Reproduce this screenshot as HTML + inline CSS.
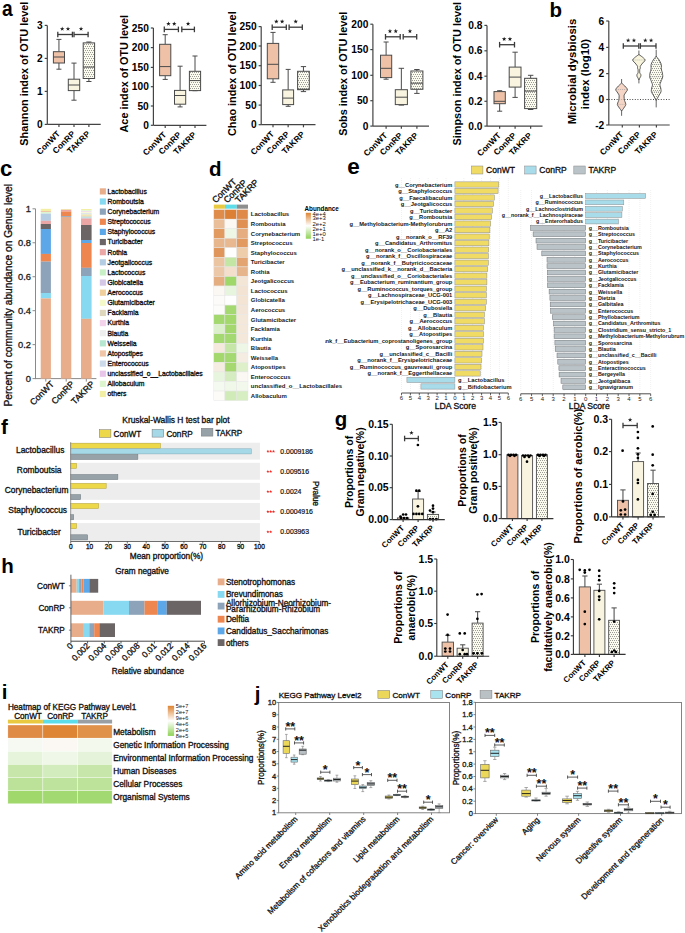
<!DOCTYPE html>
<html><head><meta charset="utf-8"><style>html,body{margin:0;padding:0;background:#fff;width:685px;height:933px;overflow:hidden}svg{display:block}text{font-family:"Liberation Sans",sans-serif}</style></head>
<body><svg width="685" height="933" viewBox="0 0 685 933" font-family='"Liberation Sans", sans-serif'><defs><pattern id="dots" width="2" height="4" patternUnits="userSpaceOnUse"><rect width="2" height="4" fill="#FCFBF0"/><rect x="0" y="0" width="1" height="1" fill="#9c9c94"/><rect x="1" y="2" width="1" height="1" fill="#9c9c94"/></pattern></defs><text x="0" y="0" font-size="21.5" font-weight="bold" transform="translate(2 16.4) scale(0.89 1)">a</text>
<line x1="47.3" y1="25.4" x2="47.3" y2="124.4" stroke="#444" stroke-width="1.2"/>
<line x1="47.3" y1="124.4" x2="100.7" y2="124.4" stroke="#444" stroke-width="1.2"/>
<line x1="44.7" y1="25.4" x2="47.3" y2="25.4" stroke="#444" stroke-width="1.2"/>
<text x="42.7" y="29.07" font-size="10.2" font-weight="bold" text-anchor="end">3</text>
<line x1="44.7" y1="58.4" x2="47.3" y2="58.4" stroke="#444" stroke-width="1.2"/>
<text x="42.7" y="62.07" font-size="10.2" font-weight="bold" text-anchor="end">2</text>
<line x1="44.7" y1="91.4" x2="47.3" y2="91.4" stroke="#444" stroke-width="1.2"/>
<text x="42.7" y="95.07" font-size="10.2" font-weight="bold" text-anchor="end">1</text>
<line x1="44.7" y1="124.4" x2="47.3" y2="124.4" stroke="#444" stroke-width="1.2"/>
<text x="42.7" y="128.07" font-size="10.2" font-weight="bold" text-anchor="end">0</text>
<line x1="58.95" y1="124.4" x2="58.95" y2="127" stroke="#444" stroke-width="1.2"/>
<line x1="74" y1="124.4" x2="74" y2="127" stroke="#444" stroke-width="1.2"/>
<line x1="88.9" y1="124.4" x2="88.9" y2="127" stroke="#444" stroke-width="1.2"/>
<line x1="58.95" y1="39.4" x2="58.95" y2="51.7" stroke="#4a4a4a" stroke-width="1"/>
<line x1="58.95" y1="63" x2="58.95" y2="69.2" stroke="#4a4a4a" stroke-width="1"/>
<line x1="56.45" y1="39.4" x2="61.45" y2="39.4" stroke="#4a4a4a" stroke-width="1"/>
<line x1="56.45" y1="69.2" x2="61.45" y2="69.2" stroke="#4a4a4a" stroke-width="1"/>
<rect x="53.4" y="51.7" width="11.1" height="11.3" fill="#EFC2A8" stroke="#4a4a4a" stroke-width="1"/>
<line x1="53.4" y1="57" x2="64.5" y2="57" stroke="#4a4a4a" stroke-width="1"/>
<line x1="74" y1="63.1" x2="74" y2="79.2" stroke="#4a4a4a" stroke-width="1"/>
<line x1="74" y1="90.6" x2="74" y2="100.2" stroke="#4a4a4a" stroke-width="1"/>
<line x1="71.44" y1="63.1" x2="76.56" y2="63.1" stroke="#4a4a4a" stroke-width="1"/>
<line x1="71.44" y1="100.2" x2="76.56" y2="100.2" stroke="#4a4a4a" stroke-width="1"/>
<rect x="68.3" y="79.2" width="11.4" height="11.4" fill="#F8F4E0" stroke="#4a4a4a" stroke-width="1"/>
<line x1="68.3" y1="85" x2="79.7" y2="85" stroke="#4a4a4a" stroke-width="1"/>
<line x1="88.9" y1="42" x2="88.9" y2="42.9" stroke="#4a4a4a" stroke-width="1"/>
<line x1="88.9" y1="78.5" x2="88.9" y2="81.5" stroke="#4a4a4a" stroke-width="1"/>
<line x1="86.34" y1="42" x2="91.47" y2="42" stroke="#4a4a4a" stroke-width="1"/>
<line x1="86.34" y1="81.5" x2="91.47" y2="81.5" stroke="#4a4a4a" stroke-width="1"/>
<rect x="83.2" y="42.9" width="11.4" height="35.6" fill="url(#dots)" stroke="#4a4a4a" stroke-width="1"/>
<line x1="83.2" y1="67.1" x2="94.6" y2="67.1" stroke="#4a4a4a" stroke-width="1"/>
<line x1="57.8" y1="34.5" x2="72.4" y2="34.5" stroke="#3a3a3a" stroke-width="1.3"/>
<line x1="57.8" y1="31.7" x2="57.8" y2="37.3" stroke="#3a3a3a" stroke-width="1.3"/>
<line x1="72.4" y1="31.7" x2="72.4" y2="37.3" stroke="#3a3a3a" stroke-width="1.3"/>
<polygon points="62.2,26.55 62.76,28.13 64.43,28.17 63.1,29.19 63.58,30.8 62.2,29.85 60.82,30.8 61.3,29.19 59.97,28.17 61.64,28.13" fill="#1a1a1a"/>
<polygon points="68,26.55 68.56,28.13 70.23,28.17 68.9,29.19 69.38,30.8 68,29.85 66.62,30.8 67.1,29.19 65.77,28.17 67.44,28.13" fill="#1a1a1a"/>
<line x1="74" y1="34.5" x2="88.1" y2="34.5" stroke="#3a3a3a" stroke-width="1.3"/>
<line x1="74" y1="31.7" x2="74" y2="37.3" stroke="#3a3a3a" stroke-width="1.3"/>
<line x1="88.1" y1="31.7" x2="88.1" y2="37.3" stroke="#3a3a3a" stroke-width="1.3"/>
<polygon points="81.05,26.55 81.61,28.13 83.28,28.17 81.95,29.19 82.43,30.8 81.05,29.85 79.67,30.8 80.15,29.19 78.82,28.17 80.49,28.13" fill="#1a1a1a"/>
<text x="28.3" y="73.7" font-size="10.85" font-weight="bold" text-anchor="middle" transform="rotate(-90 28.3 73.7)">Shannon index of OTU level</text>
<text x="60.65" y="134.4" font-size="8.4" font-weight="bold" text-anchor="end" transform="rotate(-45 60.65 134.4)">ConWT</text>
<text x="75.7" y="134.4" font-size="8.4" font-weight="bold" text-anchor="end" transform="rotate(-45 75.7 134.4)">ConRP</text>
<text x="90.6" y="134.4" font-size="8.4" font-weight="bold" text-anchor="end" transform="rotate(-45 90.6 134.4)">TAKRP</text>
<line x1="153.4" y1="28" x2="153.4" y2="125.3" stroke="#444" stroke-width="1.2"/>
<line x1="153.4" y1="125.3" x2="206.4" y2="125.3" stroke="#444" stroke-width="1.2"/>
<line x1="150.8" y1="28" x2="153.4" y2="28" stroke="#444" stroke-width="1.2"/>
<text x="148.8" y="31.67" font-size="10.2" font-weight="bold" text-anchor="end">250</text>
<line x1="150.8" y1="47.6" x2="153.4" y2="47.6" stroke="#444" stroke-width="1.2"/>
<text x="148.8" y="51.27" font-size="10.2" font-weight="bold" text-anchor="end">200</text>
<line x1="150.8" y1="67.4" x2="153.4" y2="67.4" stroke="#444" stroke-width="1.2"/>
<text x="148.8" y="71.07" font-size="10.2" font-weight="bold" text-anchor="end">150</text>
<line x1="150.8" y1="86.7" x2="153.4" y2="86.7" stroke="#444" stroke-width="1.2"/>
<text x="148.8" y="90.37" font-size="10.2" font-weight="bold" text-anchor="end">100</text>
<line x1="150.8" y1="106" x2="153.4" y2="106" stroke="#444" stroke-width="1.2"/>
<text x="148.8" y="109.67" font-size="10.2" font-weight="bold" text-anchor="end">50</text>
<line x1="150.8" y1="125.3" x2="153.4" y2="125.3" stroke="#444" stroke-width="1.2"/>
<text x="148.8" y="128.97" font-size="10.2" font-weight="bold" text-anchor="end">0</text>
<line x1="165.2" y1="125.3" x2="165.2" y2="127.9" stroke="#444" stroke-width="1.2"/>
<line x1="180.1" y1="125.3" x2="180.1" y2="127.9" stroke="#444" stroke-width="1.2"/>
<line x1="195" y1="125.3" x2="195" y2="127.9" stroke="#444" stroke-width="1.2"/>
<line x1="165.2" y1="34.7" x2="165.2" y2="44.3" stroke="#4a4a4a" stroke-width="1"/>
<line x1="165.2" y1="75.7" x2="165.2" y2="79.4" stroke="#4a4a4a" stroke-width="1"/>
<line x1="162.68" y1="34.7" x2="167.72" y2="34.7" stroke="#4a4a4a" stroke-width="1"/>
<line x1="162.68" y1="79.4" x2="167.72" y2="79.4" stroke="#4a4a4a" stroke-width="1"/>
<rect x="159.6" y="44.3" width="11.2" height="31.4" fill="#EFC2A8" stroke="#4a4a4a" stroke-width="1"/>
<line x1="159.6" y1="66.6" x2="170.8" y2="66.6" stroke="#4a4a4a" stroke-width="1"/>
<line x1="180.1" y1="66.2" x2="180.1" y2="90.4" stroke="#4a4a4a" stroke-width="1"/>
<line x1="180.1" y1="104.2" x2="180.1" y2="106.9" stroke="#4a4a4a" stroke-width="1"/>
<line x1="177.58" y1="66.2" x2="182.62" y2="66.2" stroke="#4a4a4a" stroke-width="1"/>
<line x1="177.58" y1="106.9" x2="182.62" y2="106.9" stroke="#4a4a4a" stroke-width="1"/>
<rect x="174.5" y="90.4" width="11.2" height="13.8" fill="#F8F4E0" stroke="#4a4a4a" stroke-width="1"/>
<line x1="174.5" y1="95.5" x2="185.7" y2="95.5" stroke="#4a4a4a" stroke-width="1"/>
<line x1="195" y1="56" x2="195" y2="71.3" stroke="#4a4a4a" stroke-width="1"/>
<line x1="195" y1="90.6" x2="195" y2="90.7" stroke="#4a4a4a" stroke-width="1"/>
<line x1="192.48" y1="56" x2="197.52" y2="56" stroke="#4a4a4a" stroke-width="1"/>
<line x1="192.48" y1="90.7" x2="197.52" y2="90.7" stroke="#4a4a4a" stroke-width="1"/>
<rect x="189.4" y="71.3" width="11.2" height="19.3" fill="url(#dots)" stroke="#4a4a4a" stroke-width="1"/>
<line x1="189.4" y1="80.6" x2="200.6" y2="80.6" stroke="#4a4a4a" stroke-width="1"/>
<line x1="164.3" y1="29.4" x2="178.4" y2="29.4" stroke="#3a3a3a" stroke-width="1.3"/>
<line x1="164.3" y1="26.6" x2="164.3" y2="32.2" stroke="#3a3a3a" stroke-width="1.3"/>
<line x1="178.4" y1="26.6" x2="178.4" y2="32.2" stroke="#3a3a3a" stroke-width="1.3"/>
<polygon points="168.45,21.45 169.01,23.03 170.68,23.07 169.35,24.09 169.83,25.7 168.45,24.75 167.07,25.7 167.55,24.09 166.22,23.07 167.89,23.03" fill="#1a1a1a"/>
<polygon points="174.25,21.45 174.81,23.03 176.48,23.07 175.15,24.09 175.63,25.7 174.25,24.75 172.87,25.7 173.35,24.09 172.02,23.07 173.69,23.03" fill="#1a1a1a"/>
<line x1="181.8" y1="29.4" x2="194.4" y2="29.4" stroke="#3a3a3a" stroke-width="1.3"/>
<line x1="181.8" y1="26.6" x2="181.8" y2="32.2" stroke="#3a3a3a" stroke-width="1.3"/>
<line x1="194.4" y1="26.6" x2="194.4" y2="32.2" stroke="#3a3a3a" stroke-width="1.3"/>
<polygon points="188.1,21.45 188.66,23.03 190.33,23.07 189,24.09 189.48,25.7 188.1,24.75 186.72,25.7 187.2,24.09 185.87,23.07 187.54,23.03" fill="#1a1a1a"/>
<text x="128.2" y="73.7" font-size="10.85" font-weight="bold" text-anchor="middle" transform="rotate(-90 128.2 73.7)">Ace index of OTU level</text>
<text x="166.9" y="135.3" font-size="8.4" font-weight="bold" text-anchor="end" transform="rotate(-45 166.9 135.3)">ConWT</text>
<text x="181.8" y="135.3" font-size="8.4" font-weight="bold" text-anchor="end" transform="rotate(-45 181.8 135.3)">ConRP</text>
<text x="196.7" y="135.3" font-size="8.4" font-weight="bold" text-anchor="end" transform="rotate(-45 196.7 135.3)">TAKRP</text>
<line x1="261.2" y1="26.6" x2="261.2" y2="124.7" stroke="#444" stroke-width="1.2"/>
<line x1="261.2" y1="124.7" x2="315.5" y2="124.7" stroke="#444" stroke-width="1.2"/>
<line x1="258.6" y1="26.6" x2="261.2" y2="26.6" stroke="#444" stroke-width="1.2"/>
<text x="256.6" y="30.27" font-size="10.2" font-weight="bold" text-anchor="end">250</text>
<line x1="258.6" y1="46" x2="261.2" y2="46" stroke="#444" stroke-width="1.2"/>
<text x="256.6" y="49.67" font-size="10.2" font-weight="bold" text-anchor="end">200</text>
<line x1="258.6" y1="65.7" x2="261.2" y2="65.7" stroke="#444" stroke-width="1.2"/>
<text x="256.6" y="69.37" font-size="10.2" font-weight="bold" text-anchor="end">150</text>
<line x1="258.6" y1="85.5" x2="261.2" y2="85.5" stroke="#444" stroke-width="1.2"/>
<text x="256.6" y="89.17" font-size="10.2" font-weight="bold" text-anchor="end">100</text>
<line x1="258.6" y1="105.1" x2="261.2" y2="105.1" stroke="#444" stroke-width="1.2"/>
<text x="256.6" y="108.77" font-size="10.2" font-weight="bold" text-anchor="end">50</text>
<line x1="258.6" y1="124.7" x2="261.2" y2="124.7" stroke="#444" stroke-width="1.2"/>
<text x="256.6" y="128.37" font-size="10.2" font-weight="bold" text-anchor="end">0</text>
<line x1="273" y1="124.7" x2="273" y2="127.3" stroke="#444" stroke-width="1.2"/>
<line x1="288.15" y1="124.7" x2="288.15" y2="127.3" stroke="#444" stroke-width="1.2"/>
<line x1="303.45" y1="124.7" x2="303.45" y2="127.3" stroke="#444" stroke-width="1.2"/>
<line x1="273" y1="32.4" x2="273" y2="43.4" stroke="#4a4a4a" stroke-width="1"/>
<line x1="273" y1="78.8" x2="273" y2="82.3" stroke="#4a4a4a" stroke-width="1"/>
<line x1="270.44" y1="32.4" x2="275.56" y2="32.4" stroke="#4a4a4a" stroke-width="1"/>
<line x1="270.44" y1="82.3" x2="275.56" y2="82.3" stroke="#4a4a4a" stroke-width="1"/>
<rect x="267.3" y="43.4" width="11.4" height="35.4" fill="#EFC2A8" stroke="#4a4a4a" stroke-width="1"/>
<line x1="267.3" y1="64.3" x2="278.7" y2="64.3" stroke="#4a4a4a" stroke-width="1"/>
<line x1="288.15" y1="69.4" x2="288.15" y2="89.9" stroke="#4a4a4a" stroke-width="1"/>
<line x1="288.15" y1="104.6" x2="288.15" y2="106.3" stroke="#4a4a4a" stroke-width="1"/>
<line x1="285.7" y1="69.4" x2="290.6" y2="69.4" stroke="#4a4a4a" stroke-width="1"/>
<line x1="285.7" y1="106.3" x2="290.6" y2="106.3" stroke="#4a4a4a" stroke-width="1"/>
<rect x="282.7" y="89.9" width="10.9" height="14.7" fill="#F8F4E0" stroke="#4a4a4a" stroke-width="1"/>
<line x1="282.7" y1="98.1" x2="293.6" y2="98.1" stroke="#4a4a4a" stroke-width="1"/>
<line x1="303.45" y1="66.6" x2="303.45" y2="71.3" stroke="#4a4a4a" stroke-width="1"/>
<line x1="303.45" y1="89.7" x2="303.45" y2="91.6" stroke="#4a4a4a" stroke-width="1"/>
<line x1="300.82" y1="66.6" x2="306.08" y2="66.6" stroke="#4a4a4a" stroke-width="1"/>
<line x1="300.82" y1="91.6" x2="306.08" y2="91.6" stroke="#4a4a4a" stroke-width="1"/>
<rect x="297.6" y="71.3" width="11.7" height="18.4" fill="url(#dots)" stroke="#4a4a4a" stroke-width="1"/>
<line x1="297.6" y1="89.2" x2="309.3" y2="89.2" stroke="#4a4a4a" stroke-width="1"/>
<line x1="272.2" y1="27.2" x2="286.3" y2="27.2" stroke="#3a3a3a" stroke-width="1.3"/>
<line x1="272.2" y1="24.4" x2="272.2" y2="30" stroke="#3a3a3a" stroke-width="1.3"/>
<line x1="286.3" y1="24.4" x2="286.3" y2="30" stroke="#3a3a3a" stroke-width="1.3"/>
<polygon points="276.35,19.25 276.91,20.83 278.58,20.87 277.25,21.89 277.73,23.5 276.35,22.55 274.97,23.5 275.45,21.89 274.12,20.87 275.79,20.83" fill="#1a1a1a"/>
<polygon points="282.15,19.25 282.71,20.83 284.38,20.87 283.05,21.89 283.53,23.5 282.15,22.55 280.77,23.5 281.25,21.89 279.92,20.87 281.59,20.83" fill="#1a1a1a"/>
<line x1="289.1" y1="27.2" x2="302.3" y2="27.2" stroke="#3a3a3a" stroke-width="1.3"/>
<line x1="289.1" y1="24.4" x2="289.1" y2="30" stroke="#3a3a3a" stroke-width="1.3"/>
<line x1="302.3" y1="24.4" x2="302.3" y2="30" stroke="#3a3a3a" stroke-width="1.3"/>
<polygon points="295.7,19.25 296.26,20.83 297.93,20.87 296.6,21.89 297.08,23.5 295.7,22.55 294.32,23.5 294.8,21.89 293.47,20.87 295.14,20.83" fill="#1a1a1a"/>
<text x="236.4" y="73.7" font-size="10.85" font-weight="bold" text-anchor="middle" transform="rotate(-90 236.4 73.7)">Chao index of OTU level</text>
<text x="274.7" y="134.7" font-size="8.4" font-weight="bold" text-anchor="end" transform="rotate(-45 274.7 134.7)">ConWT</text>
<text x="289.85" y="134.7" font-size="8.4" font-weight="bold" text-anchor="end" transform="rotate(-45 289.85 134.7)">ConRP</text>
<text x="305.15" y="134.7" font-size="8.4" font-weight="bold" text-anchor="end" transform="rotate(-45 305.15 134.7)">TAKRP</text>
<line x1="372.9" y1="24.2" x2="372.9" y2="126.1" stroke="#444" stroke-width="1.2"/>
<line x1="372.9" y1="126.1" x2="429" y2="126.1" stroke="#444" stroke-width="1.2"/>
<line x1="370.3" y1="24.2" x2="372.9" y2="24.2" stroke="#444" stroke-width="1.2"/>
<text x="368.3" y="27.87" font-size="10.2" font-weight="bold" text-anchor="end">200</text>
<line x1="370.3" y1="49.6" x2="372.9" y2="49.6" stroke="#444" stroke-width="1.2"/>
<text x="368.3" y="53.27" font-size="10.2" font-weight="bold" text-anchor="end">150</text>
<line x1="370.3" y1="75.3" x2="372.9" y2="75.3" stroke="#444" stroke-width="1.2"/>
<text x="368.3" y="78.97" font-size="10.2" font-weight="bold" text-anchor="end">100</text>
<line x1="370.3" y1="100.7" x2="372.9" y2="100.7" stroke="#444" stroke-width="1.2"/>
<text x="368.3" y="104.37" font-size="10.2" font-weight="bold" text-anchor="end">50</text>
<line x1="370.3" y1="126.1" x2="372.9" y2="126.1" stroke="#444" stroke-width="1.2"/>
<text x="368.3" y="129.77" font-size="10.2" font-weight="bold" text-anchor="end">0</text>
<line x1="386.1" y1="126.1" x2="386.1" y2="128.7" stroke="#444" stroke-width="1.2"/>
<line x1="401.35" y1="126.1" x2="401.35" y2="128.7" stroke="#444" stroke-width="1.2"/>
<line x1="416.9" y1="126.1" x2="416.9" y2="128.7" stroke="#444" stroke-width="1.2"/>
<line x1="386.1" y1="42" x2="386.1" y2="55.2" stroke="#4a4a4a" stroke-width="1"/>
<line x1="386.1" y1="77.6" x2="386.1" y2="79.2" stroke="#4a4a4a" stroke-width="1"/>
<line x1="383.58" y1="42" x2="388.62" y2="42" stroke="#4a4a4a" stroke-width="1"/>
<line x1="383.58" y1="79.2" x2="388.62" y2="79.2" stroke="#4a4a4a" stroke-width="1"/>
<rect x="380.5" y="55.2" width="11.2" height="22.4" fill="#EFC2A8" stroke="#4a4a4a" stroke-width="1"/>
<line x1="380.5" y1="68.3" x2="391.7" y2="68.3" stroke="#4a4a4a" stroke-width="1"/>
<line x1="401.35" y1="68.3" x2="401.35" y2="89.7" stroke="#4a4a4a" stroke-width="1"/>
<line x1="401.35" y1="104.6" x2="401.35" y2="105.1" stroke="#4a4a4a" stroke-width="1"/>
<line x1="398.63" y1="68.3" x2="404.07" y2="68.3" stroke="#4a4a4a" stroke-width="1"/>
<line x1="398.63" y1="105.1" x2="404.07" y2="105.1" stroke="#4a4a4a" stroke-width="1"/>
<rect x="395.3" y="89.7" width="12.1" height="14.9" fill="#F8F4E0" stroke="#4a4a4a" stroke-width="1"/>
<line x1="395.3" y1="97.2" x2="407.4" y2="97.2" stroke="#4a4a4a" stroke-width="1"/>
<line x1="416.9" y1="69.5" x2="416.9" y2="71" stroke="#4a4a4a" stroke-width="1"/>
<line x1="416.9" y1="89.3" x2="416.9" y2="93.4" stroke="#4a4a4a" stroke-width="1"/>
<line x1="414.2" y1="69.5" x2="419.6" y2="69.5" stroke="#4a4a4a" stroke-width="1"/>
<line x1="414.2" y1="93.4" x2="419.6" y2="93.4" stroke="#4a4a4a" stroke-width="1"/>
<rect x="410.9" y="71" width="12" height="18.3" fill="url(#dots)" stroke="#4a4a4a" stroke-width="1"/>
<line x1="410.9" y1="83.2" x2="422.9" y2="83.2" stroke="#4a4a4a" stroke-width="1"/>
<line x1="385.5" y1="36.8" x2="400.2" y2="36.8" stroke="#3a3a3a" stroke-width="1.3"/>
<line x1="385.5" y1="34" x2="385.5" y2="39.6" stroke="#3a3a3a" stroke-width="1.3"/>
<line x1="400.2" y1="34" x2="400.2" y2="39.6" stroke="#3a3a3a" stroke-width="1.3"/>
<polygon points="389.95,28.85 390.51,30.43 392.18,30.47 390.85,31.49 391.33,33.1 389.95,32.15 388.57,33.1 389.05,31.49 387.72,30.47 389.39,30.43" fill="#1a1a1a"/>
<polygon points="395.75,28.85 396.31,30.43 397.98,30.47 396.65,31.49 397.13,33.1 395.75,32.15 394.37,33.1 394.85,31.49 393.52,30.47 395.19,30.43" fill="#1a1a1a"/>
<line x1="403.2" y1="36.8" x2="416.7" y2="36.8" stroke="#3a3a3a" stroke-width="1.3"/>
<line x1="403.2" y1="34" x2="403.2" y2="39.6" stroke="#3a3a3a" stroke-width="1.3"/>
<line x1="416.7" y1="34" x2="416.7" y2="39.6" stroke="#3a3a3a" stroke-width="1.3"/>
<polygon points="409.95,28.85 410.51,30.43 412.18,30.47 410.85,31.49 411.33,33.1 409.95,32.15 408.57,33.1 409.05,31.49 407.72,30.47 409.39,30.43" fill="#1a1a1a"/>
<text x="347.5" y="73.7" font-size="10.85" font-weight="bold" text-anchor="middle" transform="rotate(-90 347.5 73.7)">Sobs index of OTU level</text>
<text x="387.8" y="136.1" font-size="8.4" font-weight="bold" text-anchor="end" transform="rotate(-45 387.8 136.1)">ConWT</text>
<text x="403.05" y="136.1" font-size="8.4" font-weight="bold" text-anchor="end" transform="rotate(-45 403.05 136.1)">ConRP</text>
<text x="418.6" y="136.1" font-size="8.4" font-weight="bold" text-anchor="end" transform="rotate(-45 418.6 136.1)">TAKRP</text>
<line x1="487" y1="25.4" x2="487" y2="126.1" stroke="#444" stroke-width="1.2"/>
<line x1="487" y1="126.1" x2="542.5" y2="126.1" stroke="#444" stroke-width="1.2"/>
<line x1="484.4" y1="25.4" x2="487" y2="25.4" stroke="#444" stroke-width="1.2"/>
<text x="482.4" y="29.07" font-size="10.2" font-weight="bold" text-anchor="end">0.8</text>
<line x1="484.4" y1="50.8" x2="487" y2="50.8" stroke="#444" stroke-width="1.2"/>
<text x="482.4" y="54.47" font-size="10.2" font-weight="bold" text-anchor="end">0.6</text>
<line x1="484.4" y1="76.2" x2="487" y2="76.2" stroke="#444" stroke-width="1.2"/>
<text x="482.4" y="79.87" font-size="10.2" font-weight="bold" text-anchor="end">0.4</text>
<line x1="484.4" y1="101.3" x2="487" y2="101.3" stroke="#444" stroke-width="1.2"/>
<text x="482.4" y="104.97" font-size="10.2" font-weight="bold" text-anchor="end">0.2</text>
<line x1="484.4" y1="126.1" x2="487" y2="126.1" stroke="#444" stroke-width="1.2"/>
<text x="482.4" y="129.77" font-size="10.2" font-weight="bold" text-anchor="end">0.0</text>
<line x1="499.65" y1="126.1" x2="499.65" y2="128.7" stroke="#444" stroke-width="1.2"/>
<line x1="515.1" y1="126.1" x2="515.1" y2="128.7" stroke="#444" stroke-width="1.2"/>
<line x1="530.65" y1="126.1" x2="530.65" y2="128.7" stroke="#444" stroke-width="1.2"/>
<line x1="499.65" y1="90.7" x2="499.65" y2="91.6" stroke="#4a4a4a" stroke-width="1"/>
<line x1="499.65" y1="103.7" x2="499.65" y2="111.2" stroke="#4a4a4a" stroke-width="1"/>
<line x1="497.11" y1="90.7" x2="502.19" y2="90.7" stroke="#4a4a4a" stroke-width="1"/>
<line x1="497.11" y1="111.2" x2="502.19" y2="111.2" stroke="#4a4a4a" stroke-width="1"/>
<rect x="494" y="91.6" width="11.3" height="12.1" fill="#EFC2A8" stroke="#4a4a4a" stroke-width="1"/>
<line x1="494" y1="101.3" x2="505.3" y2="101.3" stroke="#4a4a4a" stroke-width="1"/>
<line x1="515.1" y1="52.2" x2="515.1" y2="67.1" stroke="#4a4a4a" stroke-width="1"/>
<line x1="515.1" y1="87.1" x2="515.1" y2="97.4" stroke="#4a4a4a" stroke-width="1"/>
<line x1="512.45" y1="52.2" x2="517.75" y2="52.2" stroke="#4a4a4a" stroke-width="1"/>
<line x1="512.45" y1="97.4" x2="517.75" y2="97.4" stroke="#4a4a4a" stroke-width="1"/>
<rect x="509.2" y="67.1" width="11.8" height="20" fill="#F8F4E0" stroke="#4a4a4a" stroke-width="1"/>
<line x1="509.2" y1="77.1" x2="521" y2="77.1" stroke="#4a4a4a" stroke-width="1"/>
<line x1="530.65" y1="75.3" x2="530.65" y2="78.3" stroke="#4a4a4a" stroke-width="1"/>
<line x1="530.65" y1="108.6" x2="530.65" y2="109.5" stroke="#4a4a4a" stroke-width="1"/>
<line x1="527.93" y1="75.3" x2="533.37" y2="75.3" stroke="#4a4a4a" stroke-width="1"/>
<line x1="527.93" y1="109.5" x2="533.37" y2="109.5" stroke="#4a4a4a" stroke-width="1"/>
<rect x="524.6" y="78.3" width="12.1" height="30.3" fill="url(#dots)" stroke="#4a4a4a" stroke-width="1"/>
<line x1="524.6" y1="91.1" x2="536.7" y2="91.1" stroke="#4a4a4a" stroke-width="1"/>
<line x1="499.6" y1="44.7" x2="514.5" y2="44.7" stroke="#3a3a3a" stroke-width="1.3"/>
<line x1="499.6" y1="41.9" x2="499.6" y2="47.5" stroke="#3a3a3a" stroke-width="1.3"/>
<line x1="514.5" y1="41.9" x2="514.5" y2="47.5" stroke="#3a3a3a" stroke-width="1.3"/>
<polygon points="504.15,36.75 504.71,38.33 506.38,38.37 505.05,39.39 505.53,41 504.15,40.05 502.77,41 503.25,39.39 501.92,38.37 503.59,38.33" fill="#1a1a1a"/>
<polygon points="509.95,36.75 510.51,38.33 512.18,38.37 510.85,39.39 511.33,41 509.95,40.05 508.57,41 509.05,39.39 507.72,38.37 509.39,38.33" fill="#1a1a1a"/>
<text x="461.3" y="73.7" font-size="10.85" font-weight="bold" text-anchor="middle" transform="rotate(-90 461.3 73.7)">Simpson index of OTU level</text>
<text x="501.35" y="136.1" font-size="8.4" font-weight="bold" text-anchor="end" transform="rotate(-45 501.35 136.1)">ConWT</text>
<text x="516.8" y="136.1" font-size="8.4" font-weight="bold" text-anchor="end" transform="rotate(-45 516.8 136.1)">ConRP</text>
<text x="532.35" y="136.1" font-size="8.4" font-weight="bold" text-anchor="end" transform="rotate(-45 532.35 136.1)">TAKRP</text>
<text x="0" y="0" font-size="20.5" font-weight="bold" transform="translate(549.5 17.1) scale(1 1)">b</text>
<line x1="608.8" y1="21" x2="608.8" y2="125" stroke="#444" stroke-width="1.2"/>
<line x1="608.8" y1="125" x2="669.7" y2="125" stroke="#444" stroke-width="1.2"/>
<line x1="606.2" y1="21" x2="608.8" y2="21" stroke="#444" stroke-width="1.2"/>
<text x="604.2" y="24.67" font-size="10.2" font-weight="bold" text-anchor="end">6</text>
<line x1="606.2" y1="47.4" x2="608.8" y2="47.4" stroke="#444" stroke-width="1.2"/>
<text x="604.2" y="51.07" font-size="10.2" font-weight="bold" text-anchor="end">4</text>
<line x1="606.2" y1="73.6" x2="608.8" y2="73.6" stroke="#444" stroke-width="1.2"/>
<text x="604.2" y="77.27" font-size="10.2" font-weight="bold" text-anchor="end">2</text>
<line x1="606.2" y1="99.5" x2="608.8" y2="99.5" stroke="#444" stroke-width="1.2"/>
<text x="604.2" y="103.17" font-size="10.2" font-weight="bold" text-anchor="end">0</text>
<line x1="606.2" y1="125" x2="608.8" y2="125" stroke="#444" stroke-width="1.2"/>
<text x="604.2" y="128.67" font-size="10.2" font-weight="bold" text-anchor="end">-2</text>
<line x1="622.3" y1="125" x2="622.3" y2="127.6" stroke="#444" stroke-width="1.2"/>
<line x1="639.4" y1="125" x2="639.4" y2="127.6" stroke="#444" stroke-width="1.2"/>
<line x1="656.4" y1="125" x2="656.4" y2="127.6" stroke="#444" stroke-width="1.2"/>
<line x1="608.8" y1="99.5" x2="669.7" y2="99.5" stroke="#333" stroke-width="0.9" stroke-dasharray="1,1.6"/>
<line x1="621.6" y1="79" x2="621.6" y2="115.8" stroke="#555" stroke-width="0.9"/>
<line x1="638.9" y1="50.5" x2="638.9" y2="83.4" stroke="#555" stroke-width="0.9"/>
<line x1="656.2" y1="49.6" x2="656.2" y2="107.4" stroke="#555" stroke-width="0.9"/>
<polygon points="621.6,83 622.67,84 623.73,85 624.79,86 625.83,87.17 626.87,88.33 627.49,89.5 627.3,90.33 626.7,91.17 626.07,92 625.37,93.07 624.63,94.13 624.12,95.2 624.07,96.93 624.23,98.67 624.5,100.4 624.97,101.73 625.53,103.07 625.83,104.4 625.6,105.27 625.1,106.13 624.48,107 623.6,108.33 622.6,109.67 621.6,111 621.6,111 620.6,109.67 619.6,108.33 618.73,107 618.1,106.13 617.6,105.27 617.37,104.4 617.67,103.07 618.23,101.73 618.7,100.4 618.97,98.67 619.13,96.93 619.08,95.2 618.57,94.13 617.83,93.07 617.13,92 616.5,91.17 615.9,90.33 615.71,89.5 616.33,88.33 617.37,87.17 618.41,86 619.47,85 620.53,84 621.6,83" fill="#F5D5C5" stroke="#4a4a4a" stroke-width="0.9" stroke-linejoin="round"/>
<polygon points="638.9,54.5 640.07,55.33 641.23,56.17 642.38,57 643.5,58 644.6,59 645.17,60 644.7,61 643.7,62 642.73,63 641.83,64.1 640.97,65.2 640.34,66.3 640.2,66.87 640.3,67.43 640.32,68 640.17,68.5 639.93,69 639.76,69.5 639.7,70 639.7,70.5 639.7,71 639.7,71.67 639.7,72.33 639.8,73 640.1,73.5 640.5,74 640.8,74.5 640.9,75.1 640.9,75.7 640.78,76.3 640.43,77.03 639.97,77.77 639.57,78.5 639.3,79 639.1,79.5 638.9,80 638.9,80 638.7,79.5 638.5,79 638.23,78.5 637.83,77.77 637.37,77.03 637.02,76.3 636.9,75.7 636.9,75.1 637,74.5 637.3,74 637.7,73.5 638,73 638.1,72.33 638.1,71.67 638.1,71 638.1,70.5 638.1,70 638.04,69.5 637.87,69 637.63,68.5 637.48,68 637.5,67.43 637.6,66.87 637.46,66.3 636.83,65.2 635.97,64.1 635.07,63 634.1,62 633.1,61 632.62,60 633.2,59 634.3,58 635.42,57 636.57,56.17 637.73,55.33 638.9,54.5" fill="#F8F5DC" stroke="#4a4a4a" stroke-width="0.9" stroke-linejoin="round"/>
<polygon points="656.2,56.2 657.2,57.47 658.2,58.73 659.14,60 659.97,61.5 660.73,63 661.28,64.5 661.4,65.97 661.3,67.43 661.33,68.9 661.6,70.27 662,71.63 662.34,73 662.57,74.27 662.73,75.53 662.73,76.8 662.4,78.03 661.9,79.27 661.38,80.5 660.83,81.9 660.27,83.3 659.93,84.7 660.07,85.8 660.43,86.9 660.74,88 660.93,89.23 661.07,90.47 661,91.7 660.53,92.8 659.87,93.9 659.12,95 658.2,96.8 657.2,98.6 656.2,100.4 656.2,100.4 655.2,98.6 654.2,96.8 653.28,95 652.53,93.9 651.87,92.8 651.4,91.7 651.33,90.47 651.47,89.23 651.66,88 651.97,86.9 652.33,85.8 652.47,84.7 652.13,83.3 651.57,81.9 651.02,80.5 650.5,79.27 650,78.03 649.67,76.8 649.67,75.53 649.83,74.27 650.06,73 650.4,71.63 650.8,70.27 651.08,68.9 651.1,67.43 651,65.97 651.12,64.5 651.67,63 652.43,61.5 653.26,60 654.2,58.73 655.2,57.47 656.2,56.2" fill="url(#dots)" stroke="#4a4a4a" stroke-width="0.9" stroke-linejoin="round"/>
<line x1="616.1" y1="89.5" x2="627.1" y2="89.5" stroke="#999" stroke-width="0.6" stroke-dasharray="1,1"/>
<line x1="619.1" y1="99.5" x2="624.1" y2="99.5" stroke="#999" stroke-width="0.6" stroke-dasharray="1,1"/>
<line x1="617.6" y1="104.4" x2="625.6" y2="104.4" stroke="#999" stroke-width="0.6" stroke-dasharray="1,1"/>
<line x1="633.4" y1="60" x2="644.4" y2="60" stroke="#999" stroke-width="0.6" stroke-dasharray="1,1"/>
<line x1="651.7" y1="64.5" x2="660.7" y2="64.5" stroke="#999" stroke-width="0.6" stroke-dasharray="1,1"/>
<line x1="650.4" y1="76.8" x2="662" y2="76.8" stroke="#999" stroke-width="0.6" stroke-dasharray="1,1"/>
<line x1="651.9" y1="91.7" x2="660.5" y2="91.7" stroke="#999" stroke-width="0.6" stroke-dasharray="1,1"/>
<line x1="623.3" y1="46" x2="638.8" y2="46" stroke="#3a3a3a" stroke-width="1.3"/>
<line x1="623.3" y1="43.2" x2="623.3" y2="48.8" stroke="#3a3a3a" stroke-width="1.3"/>
<line x1="638.8" y1="43.2" x2="638.8" y2="48.8" stroke="#3a3a3a" stroke-width="1.3"/>
<polygon points="628.15,38.05 628.71,39.63 630.38,39.67 629.05,40.69 629.53,42.3 628.15,41.35 626.77,42.3 627.25,40.69 625.92,39.67 627.59,39.63" fill="#1a1a1a"/>
<polygon points="633.95,38.05 634.51,39.63 636.18,39.67 634.85,40.69 635.33,42.3 633.95,41.35 632.57,42.3 633.05,40.69 631.72,39.67 633.39,39.63" fill="#1a1a1a"/>
<line x1="640.4" y1="46" x2="656" y2="46" stroke="#3a3a3a" stroke-width="1.3"/>
<line x1="640.4" y1="43.2" x2="640.4" y2="48.8" stroke="#3a3a3a" stroke-width="1.3"/>
<line x1="656" y1="43.2" x2="656" y2="48.8" stroke="#3a3a3a" stroke-width="1.3"/>
<polygon points="645.3,38.05 645.86,39.63 647.53,39.67 646.2,40.69 646.68,42.3 645.3,41.35 643.92,42.3 644.4,40.69 643.07,39.67 644.74,39.63" fill="#1a1a1a"/>
<polygon points="651.1,38.05 651.66,39.63 653.33,39.67 652,40.69 652.48,42.3 651.1,41.35 649.72,42.3 650.2,40.69 648.87,39.67 650.54,39.63" fill="#1a1a1a"/>
<text x="575.6" y="71.5" font-size="11.4" font-weight="bold" text-anchor="middle" transform="rotate(-90 575.6 71.5)">Microbial dysbiosis</text>
<text x="588.9" y="74" font-size="11.4" font-weight="bold" text-anchor="middle" transform="rotate(-90 588.9 74)">index (log10)</text>
<text x="624" y="135" font-size="8.4" font-weight="bold" text-anchor="end" transform="rotate(-45 624 135)">ConWT</text>
<text x="641.1" y="135" font-size="8.4" font-weight="bold" text-anchor="end" transform="rotate(-45 641.1 135)">ConRP</text>
<text x="658.1" y="135" font-size="8.4" font-weight="bold" text-anchor="end" transform="rotate(-45 658.1 135)">TAKRP</text>
<text x="0" y="0" font-size="22" font-weight="bold" transform="translate(0 176.4) scale(1 1)">c</text>
<line x1="35.5" y1="208.8" x2="35.5" y2="379.1" stroke="#8a8a8a" stroke-width="1"/>
<line x1="35.5" y1="378.6" x2="96.4" y2="378.6" stroke="#8a8a8a" stroke-width="1"/>
<line x1="32.5" y1="378.6" x2="35.5" y2="378.6" stroke="#8a8a8a" stroke-width="1"/>
<text x="31" y="382" font-size="9.3" text-anchor="end" fill="#222" stroke="#222" stroke-width="0.32">0</text>
<line x1="32.5" y1="344.64" x2="35.5" y2="344.64" stroke="#8a8a8a" stroke-width="1"/>
<text x="31" y="348.04" font-size="9.3" text-anchor="end" fill="#222" stroke="#222" stroke-width="0.32">0.2</text>
<line x1="32.5" y1="310.68" x2="35.5" y2="310.68" stroke="#8a8a8a" stroke-width="1"/>
<text x="31" y="314.08" font-size="9.3" text-anchor="end" fill="#222" stroke="#222" stroke-width="0.32">0.4</text>
<line x1="32.5" y1="276.72" x2="35.5" y2="276.72" stroke="#8a8a8a" stroke-width="1"/>
<text x="31" y="280.12" font-size="9.3" text-anchor="end" fill="#222" stroke="#222" stroke-width="0.32">0.6</text>
<line x1="32.5" y1="242.76" x2="35.5" y2="242.76" stroke="#8a8a8a" stroke-width="1"/>
<text x="31" y="246.16" font-size="9.3" text-anchor="end" fill="#222" stroke="#222" stroke-width="0.32">0.8</text>
<line x1="32.5" y1="208.8" x2="35.5" y2="208.8" stroke="#8a8a8a" stroke-width="1"/>
<text x="31" y="212.2" font-size="9.3" text-anchor="end" fill="#222" stroke="#222" stroke-width="0.32">1</text>
<line x1="45.8" y1="378.6" x2="45.8" y2="381.6" stroke="#8a8a8a" stroke-width="1"/>
<line x1="66.2" y1="378.6" x2="66.2" y2="381.6" stroke="#8a8a8a" stroke-width="1"/>
<line x1="86.3" y1="378.6" x2="86.3" y2="381.6" stroke="#8a8a8a" stroke-width="1"/>
<rect x="40.7" y="208.8" width="10.2" height="2.25" fill="#F2EFA5"/>
<rect x="40.7" y="211" width="10.2" height="1.05" fill="#F0C6A8"/>
<rect x="40.7" y="212" width="10.2" height="1.65" fill="#DDF5CF"/>
<rect x="40.7" y="213.6" width="10.2" height="7.25" fill="#B5CDE3"/>
<rect x="40.7" y="220.8" width="10.2" height="3.25" fill="#EBA7A5"/>
<rect x="40.7" y="224" width="10.2" height="5.05" fill="#6B6566"/>
<rect x="40.7" y="229" width="10.2" height="24.95" fill="#5BA7E8"/>
<rect x="40.7" y="253.9" width="10.2" height="7.75" fill="#EE8650"/>
<rect x="40.7" y="261.6" width="10.2" height="31.45" fill="#8CA3B9"/>
<rect x="40.7" y="293" width="10.2" height="5.45" fill="#86D9F0"/>
<rect x="40.7" y="298.4" width="10.2" height="80.25" fill="#E8AE8C"/>
<rect x="60.9" y="209" width="10.4" height="0.85" fill="#F2EFA5"/>
<rect x="60.9" y="209.8" width="10.4" height="1.75" fill="#EBA7A5"/>
<rect x="60.9" y="211.5" width="10.4" height="4.75" fill="#EE8650"/>
<rect x="60.9" y="216.2" width="10.4" height="0.85" fill="#8CA3B9"/>
<rect x="60.9" y="217" width="10.4" height="161.65" fill="#E8AE8C"/>
<rect x="81" y="209" width="10.6" height="1.25" fill="#F2EFA5"/>
<rect x="81" y="210.2" width="10.6" height="1.15" fill="#DDF5CF"/>
<rect x="81" y="211.3" width="10.6" height="1.05" fill="#F3D2EC"/>
<rect x="81" y="212.3" width="10.6" height="1.15" fill="#F5F9CA"/>
<rect x="81" y="213.4" width="10.6" height="1.15" fill="#CCD9EB"/>
<rect x="81" y="214.5" width="10.6" height="1.15" fill="#F2EFA5"/>
<rect x="81" y="215.6" width="10.6" height="1.05" fill="#F0C6A8"/>
<rect x="81" y="216.6" width="10.6" height="1.05" fill="#B6E6CF"/>
<rect x="81" y="217.6" width="10.6" height="0.95" fill="#B5CDE3"/>
<rect x="81" y="218.5" width="10.6" height="6.55" fill="#EBA7A5"/>
<rect x="81" y="225" width="10.6" height="15.05" fill="#6B6566"/>
<rect x="81" y="240" width="10.6" height="3.05" fill="#5BA7E8"/>
<rect x="81" y="243" width="10.6" height="24.85" fill="#EE8650"/>
<rect x="81" y="267.8" width="10.6" height="8.25" fill="#8CA3B9"/>
<rect x="81" y="276" width="10.6" height="42.85" fill="#86D9F0"/>
<rect x="81" y="318.8" width="10.6" height="59.85" fill="#E8AE8C"/>
<text x="54.6" y="384.6" font-size="8.8" text-anchor="end" fill="#111" transform="rotate(-45 54.6 384.6)" stroke="#111" stroke-width="0.32">ConWT</text>
<text x="75" y="384.6" font-size="8.8" text-anchor="end" fill="#111" transform="rotate(-45 75 384.6)" stroke="#111" stroke-width="0.32">ConRP</text>
<text x="95.1" y="384.6" font-size="8.8" text-anchor="end" fill="#111" transform="rotate(-45 95.1 384.6)" stroke="#111" stroke-width="0.32">TAKRP</text>
<text x="11.6" y="295.3" font-size="10.2" text-anchor="middle" fill="#111" transform="rotate(-90 11.6 295.3)" stroke="#111" stroke-width="0.32">Percent of community abundance on Genus level</text>
<rect x="99.8" y="188.3" width="6.1" height="6.2" fill="#E8AE8C"/>
<text x="107.5" y="193.8" font-size="6.8" fill="#111" stroke="#111" stroke-width="0.32">Lactobacillus</text>
<rect x="99.8" y="198.43" width="6.1" height="6.2" fill="#86D9F0"/>
<text x="107.5" y="203.93" font-size="6.8" fill="#111" stroke="#111" stroke-width="0.32">Romboutsia</text>
<rect x="99.8" y="208.56" width="6.1" height="6.2" fill="#8CA3B9"/>
<text x="107.5" y="214.06" font-size="6.8" fill="#111" stroke="#111" stroke-width="0.32">Corynebacterium</text>
<rect x="99.8" y="218.69" width="6.1" height="6.2" fill="#EE8650"/>
<text x="107.5" y="224.19" font-size="6.8" fill="#111" stroke="#111" stroke-width="0.32">Streptococcus</text>
<rect x="99.8" y="228.82" width="6.1" height="6.2" fill="#5BA7E8"/>
<text x="107.5" y="234.32" font-size="6.8" fill="#111" stroke="#111" stroke-width="0.32">Staphylococcus</text>
<rect x="99.8" y="238.95" width="6.1" height="6.2" fill="#6B6566"/>
<text x="107.5" y="244.45" font-size="6.8" fill="#111" stroke="#111" stroke-width="0.32">Turicibacter</text>
<rect x="99.8" y="249.08" width="6.1" height="6.2" fill="#EBA7A5"/>
<text x="107.5" y="254.58" font-size="6.8" fill="#111" stroke="#111" stroke-width="0.32">Rothia</text>
<rect x="99.8" y="259.21" width="6.1" height="6.2" fill="#B5CDE3"/>
<text x="107.5" y="264.71" font-size="6.8" fill="#111" stroke="#111" stroke-width="0.32">Jeotgalicoccus</text>
<rect x="99.8" y="269.34" width="6.1" height="6.2" fill="#C9EFC7"/>
<text x="107.5" y="274.84" font-size="6.8" fill="#111" stroke="#111" stroke-width="0.32">Lactococcus</text>
<rect x="99.8" y="279.47" width="6.1" height="6.2" fill="#D5C7E6"/>
<text x="107.5" y="284.97" font-size="6.8" fill="#111" stroke="#111" stroke-width="0.32">Globicatella</text>
<rect x="99.8" y="289.6" width="6.1" height="6.2" fill="#EFCF9C"/>
<text x="107.5" y="295.1" font-size="6.8" fill="#111" stroke="#111" stroke-width="0.32">Aerococcus</text>
<rect x="99.8" y="299.73" width="6.1" height="6.2" fill="#F5F9CA"/>
<text x="107.5" y="305.23" font-size="6.8" fill="#111" stroke="#111" stroke-width="0.32">Glutamicibacter</text>
<rect x="99.8" y="309.86" width="6.1" height="6.2" fill="#DED6BD"/>
<text x="107.5" y="315.36" font-size="6.8" fill="#111" stroke="#111" stroke-width="0.32">Facklamia</text>
<rect x="99.8" y="319.99" width="6.1" height="6.2" fill="#F3D2EC"/>
<text x="107.5" y="325.49" font-size="6.8" fill="#111" stroke="#111" stroke-width="0.32">Kurthia</text>
<rect x="99.8" y="330.12" width="6.1" height="6.2" fill="#EEEEEE"/>
<text x="107.5" y="335.62" font-size="6.8" fill="#111" stroke="#111" stroke-width="0.32">Blautia</text>
<rect x="99.8" y="340.25" width="6.1" height="6.2" fill="#B6E6CF"/>
<text x="107.5" y="345.75" font-size="6.8" fill="#111" stroke="#111" stroke-width="0.32">Weissella</text>
<rect x="99.8" y="350.38" width="6.1" height="6.2" fill="#F0C6A8"/>
<text x="107.5" y="355.88" font-size="6.8" fill="#111" stroke="#111" stroke-width="0.32">Atopostipes</text>
<rect x="99.8" y="360.51" width="6.1" height="6.2" fill="#CCD9EB"/>
<text x="107.5" y="366.01" font-size="6.8" fill="#111" stroke="#111" stroke-width="0.32">Enterococcus</text>
<rect x="99.8" y="370.64" width="6.1" height="6.2" fill="#E8C5E8"/>
<text x="107.5" y="376.14" font-size="6.8" fill="#111" stroke="#111" stroke-width="0.32">unclassified_o__Lactobacillales</text>
<rect x="99.8" y="380.77" width="6.1" height="6.2" fill="#DDF5CF"/>
<text x="107.5" y="386.27" font-size="6.8" fill="#111" stroke="#111" stroke-width="0.32">Allobaculum</text>
<rect x="99.8" y="390.9" width="6.1" height="6.2" fill="#F2EFA5"/>
<text x="107.5" y="396.4" font-size="6.8" fill="#111" stroke="#111" stroke-width="0.32">others</text>
<text x="0" y="0" font-size="20.5" font-weight="bold" transform="translate(209 176) scale(1 1)">d</text>
<rect x="213.8" y="204.6" width="11.1" height="4.1" fill="#E9C93F"/>
<rect x="224.9" y="204.6" width="11.9" height="4.1" fill="#5CDDEA"/>
<rect x="236.8" y="204.6" width="11.2" height="4.1" fill="#8E8E8E"/>
<rect x="213.8" y="209.6" width="11.1" height="9.55" fill="#DF8C4A" stroke="#e6e6e6" stroke-width="0.45"/>
<rect x="224.9" y="209.6" width="11.9" height="9.55" fill="#DC8035" stroke="#e6e6e6" stroke-width="0.45"/>
<rect x="236.8" y="209.6" width="11.2" height="9.55" fill="#DF8A48" stroke="#e6e6e6" stroke-width="0.45"/>
<text x="250.8" y="216.47" font-size="6" font-weight="bold" fill="#1a1a1a">Lactobacillus</text>
<rect x="213.8" y="219.15" width="11.1" height="9.55" fill="#E9BE98" stroke="#e6e6e6" stroke-width="0.45"/>
<rect x="224.9" y="219.15" width="11.9" height="9.55" fill="#FBF8F3" stroke="#e6e6e6" stroke-width="0.45"/>
<rect x="236.8" y="219.15" width="11.2" height="9.55" fill="#DF9052" stroke="#e6e6e6" stroke-width="0.45"/>
<text x="250.8" y="226.03" font-size="6" font-weight="bold" fill="#1a1a1a">Romboutsia</text>
<rect x="213.8" y="228.7" width="11.1" height="9.55" fill="#E29A5E" stroke="#e6e6e6" stroke-width="0.45"/>
<rect x="224.9" y="228.7" width="11.9" height="9.55" fill="#EEF7E6" stroke="#e6e6e6" stroke-width="0.45"/>
<rect x="236.8" y="228.7" width="11.2" height="9.55" fill="#E6AE80" stroke="#e6e6e6" stroke-width="0.45"/>
<text x="250.8" y="235.57" font-size="6" font-weight="bold" fill="#1a1a1a">Corynebacterium</text>
<rect x="213.8" y="238.25" width="11.1" height="9.55" fill="#E7B68C" stroke="#e6e6e6" stroke-width="0.45"/>
<rect x="224.9" y="238.25" width="11.9" height="9.55" fill="#E8B890" stroke="#e6e6e6" stroke-width="0.45"/>
<rect x="236.8" y="238.25" width="11.2" height="9.55" fill="#E29A60" stroke="#e6e6e6" stroke-width="0.45"/>
<text x="250.8" y="245.12" font-size="6" font-weight="bold" fill="#1a1a1a">Streptococcus</text>
<rect x="213.8" y="247.8" width="11.1" height="9.55" fill="#E0965A" stroke="#e6e6e6" stroke-width="0.45"/>
<rect x="224.9" y="247.8" width="11.9" height="9.55" fill="#FEFEFE" stroke="#e6e6e6" stroke-width="0.45"/>
<rect x="236.8" y="247.8" width="11.2" height="9.55" fill="#EDCDAA" stroke="#e6e6e6" stroke-width="0.45"/>
<text x="250.8" y="254.68" font-size="6" font-weight="bold" fill="#1a1a1a">Staphylococcus</text>
<rect x="213.8" y="257.35" width="11.1" height="9.55" fill="#EBC4A2" stroke="#e6e6e6" stroke-width="0.45"/>
<rect x="224.9" y="257.35" width="11.9" height="9.55" fill="#C4E6A4" stroke="#e6e6e6" stroke-width="0.45"/>
<rect x="236.8" y="257.35" width="11.2" height="9.55" fill="#E4A472" stroke="#e6e6e6" stroke-width="0.45"/>
<text x="250.8" y="264.23" font-size="6" font-weight="bold" fill="#1a1a1a">Turicibacter</text>
<rect x="213.8" y="266.9" width="11.1" height="9.55" fill="#ECC8A8" stroke="#e6e6e6" stroke-width="0.45"/>
<rect x="224.9" y="266.9" width="11.9" height="9.55" fill="#F3DFCC" stroke="#e6e6e6" stroke-width="0.45"/>
<rect x="236.8" y="266.9" width="11.2" height="9.55" fill="#E7B58C" stroke="#e6e6e6" stroke-width="0.45"/>
<text x="250.8" y="273.77" font-size="6" font-weight="bold" fill="#1a1a1a">Rothia</text>
<rect x="213.8" y="276.45" width="11.1" height="9.55" fill="#E5AE80" stroke="#e6e6e6" stroke-width="0.45"/>
<rect x="224.9" y="276.45" width="11.9" height="9.55" fill="#9FD86A" stroke="#e6e6e6" stroke-width="0.45"/>
<rect x="236.8" y="276.45" width="11.2" height="9.55" fill="#F4E6D6" stroke="#e6e6e6" stroke-width="0.45"/>
<text x="250.8" y="283.32" font-size="6" font-weight="bold" fill="#1a1a1a">Jeotgalicoccus</text>
<rect x="213.8" y="286" width="11.1" height="9.55" fill="#FBF7F2" stroke="#e6e6e6" stroke-width="0.45"/>
<rect x="224.9" y="286" width="11.9" height="9.55" fill="#E8F5DE" stroke="#e6e6e6" stroke-width="0.45"/>
<rect x="236.8" y="286" width="11.2" height="9.55" fill="#F3E3D2" stroke="#e6e6e6" stroke-width="0.45"/>
<text x="250.8" y="292.88" font-size="6" font-weight="bold" fill="#1a1a1a">Lactococcus</text>
<rect x="213.8" y="295.55" width="11.1" height="9.55" fill="#FDFBF9" stroke="#e6e6e6" stroke-width="0.45"/>
<rect x="224.9" y="295.55" width="11.9" height="9.55" fill="#FEFEFE" stroke="#e6e6e6" stroke-width="0.45"/>
<rect x="236.8" y="295.55" width="11.2" height="9.55" fill="#F3E4D4" stroke="#e6e6e6" stroke-width="0.45"/>
<text x="250.8" y="302.43" font-size="6" font-weight="bold" fill="#1a1a1a">Globicatella</text>
<rect x="213.8" y="305.1" width="11.1" height="9.55" fill="#FCFCFA" stroke="#e6e6e6" stroke-width="0.45"/>
<rect x="224.9" y="305.1" width="11.9" height="9.55" fill="#A4D870" stroke="#e6e6e6" stroke-width="0.45"/>
<rect x="236.8" y="305.1" width="11.2" height="9.55" fill="#F3E6D8" stroke="#e6e6e6" stroke-width="0.45"/>
<text x="250.8" y="311.98" font-size="6" font-weight="bold" fill="#1a1a1a">Aerococcus</text>
<rect x="213.8" y="314.65" width="11.1" height="9.55" fill="#A2D86E" stroke="#e6e6e6" stroke-width="0.45"/>
<rect x="224.9" y="314.65" width="11.9" height="9.55" fill="#A2D86C" stroke="#e6e6e6" stroke-width="0.45"/>
<rect x="236.8" y="314.65" width="11.2" height="9.55" fill="#F4E8DA" stroke="#e6e6e6" stroke-width="0.45"/>
<text x="250.8" y="321.52" font-size="6" font-weight="bold" fill="#1a1a1a">Glutamicibacter</text>
<rect x="213.8" y="324.2" width="11.1" height="9.55" fill="#DDF0CC" stroke="#e6e6e6" stroke-width="0.45"/>
<rect x="224.9" y="324.2" width="11.9" height="9.55" fill="#A4D86E" stroke="#e6e6e6" stroke-width="0.45"/>
<rect x="236.8" y="324.2" width="11.2" height="9.55" fill="#F4E8DA" stroke="#e6e6e6" stroke-width="0.45"/>
<text x="250.8" y="331.07" font-size="6" font-weight="bold" fill="#1a1a1a">Facklamia</text>
<rect x="213.8" y="333.75" width="11.1" height="9.55" fill="#A4D870" stroke="#e6e6e6" stroke-width="0.45"/>
<rect x="224.9" y="333.75" width="11.9" height="9.55" fill="#A4D870" stroke="#e6e6e6" stroke-width="0.45"/>
<rect x="236.8" y="333.75" width="11.2" height="9.55" fill="#F4E8DA" stroke="#e6e6e6" stroke-width="0.45"/>
<text x="250.8" y="340.62" font-size="6" font-weight="bold" fill="#1a1a1a">Kurthia</text>
<rect x="213.8" y="343.3" width="11.1" height="9.55" fill="#F5E9DE" stroke="#e6e6e6" stroke-width="0.45"/>
<rect x="224.9" y="343.3" width="11.9" height="9.55" fill="#C6E6A8" stroke="#e6e6e6" stroke-width="0.45"/>
<rect x="236.8" y="343.3" width="11.2" height="9.55" fill="#EEF7E6" stroke="#e6e6e6" stroke-width="0.45"/>
<text x="250.8" y="350.18" font-size="6" font-weight="bold" fill="#1a1a1a">Blautia</text>
<rect x="213.8" y="352.85" width="11.1" height="9.55" fill="#A2D86C" stroke="#e6e6e6" stroke-width="0.45"/>
<rect x="224.9" y="352.85" width="11.9" height="9.55" fill="#A4D870" stroke="#e6e6e6" stroke-width="0.45"/>
<rect x="236.8" y="352.85" width="11.2" height="9.55" fill="#F6EDE2" stroke="#e6e6e6" stroke-width="0.45"/>
<text x="250.8" y="359.73" font-size="6" font-weight="bold" fill="#1a1a1a">Weissella</text>
<rect x="213.8" y="362.4" width="11.1" height="9.55" fill="#F6EDE2" stroke="#e6e6e6" stroke-width="0.45"/>
<rect x="224.9" y="362.4" width="11.9" height="9.55" fill="#A6D870" stroke="#e6e6e6" stroke-width="0.45"/>
<rect x="236.8" y="362.4" width="11.2" height="9.55" fill="#DDF0CA" stroke="#e6e6e6" stroke-width="0.45"/>
<text x="250.8" y="369.27" font-size="6" font-weight="bold" fill="#1a1a1a">Atopostipes</text>
<rect x="213.8" y="371.95" width="11.1" height="9.55" fill="#E8F5DE" stroke="#e6e6e6" stroke-width="0.45"/>
<rect x="224.9" y="371.95" width="11.9" height="9.55" fill="#D4ECC0" stroke="#e6e6e6" stroke-width="0.45"/>
<rect x="236.8" y="371.95" width="11.2" height="9.55" fill="#FBF7F3" stroke="#e6e6e6" stroke-width="0.45"/>
<text x="250.8" y="378.83" font-size="6" font-weight="bold" fill="#1a1a1a">Enterococcus</text>
<rect x="213.8" y="381.5" width="11.1" height="9.55" fill="#F5FAF0" stroke="#e6e6e6" stroke-width="0.45"/>
<rect x="224.9" y="381.5" width="11.9" height="9.55" fill="#F0F8EA" stroke="#e6e6e6" stroke-width="0.45"/>
<rect x="236.8" y="381.5" width="11.2" height="9.55" fill="#F2F8EC" stroke="#e6e6e6" stroke-width="0.45"/>
<text x="250.8" y="388.38" font-size="6" font-weight="bold" fill="#1a1a1a">unclassified_o__Lactobacillales</text>
<rect x="213.8" y="391.05" width="11.1" height="9.55" fill="#FDFBF8" stroke="#e6e6e6" stroke-width="0.45"/>
<rect x="224.9" y="391.05" width="11.9" height="9.55" fill="#D0EBB8" stroke="#e6e6e6" stroke-width="0.45"/>
<rect x="236.8" y="391.05" width="11.2" height="9.55" fill="#D6EEC2" stroke="#e6e6e6" stroke-width="0.45"/>
<text x="250.8" y="397.93" font-size="6" font-weight="bold" fill="#1a1a1a">Allobaculum</text>
<text x="215.8" y="203.6" font-size="8.9" fill="#111" transform="rotate(-45 215.8 203.6)" stroke="#111" stroke-width="0.32">ConWT</text>
<text x="227.2" y="203.6" font-size="8.9" fill="#111" transform="rotate(-45 227.2 203.6)" stroke="#111" stroke-width="0.32">ConRP</text>
<text x="238.8" y="203.6" font-size="8.9" fill="#111" transform="rotate(-45 238.8 203.6)" stroke="#111" stroke-width="0.32">TAKRP</text>
<text x="304.5" y="210.5" font-size="6.3" font-weight="bold">Abundance</text>
<linearGradient id="gd" x1="0" y1="0" x2="0" y2="1"><stop offset="0" stop-color="#DE8432"/><stop offset="0.5" stop-color="#FFFFFF"/><stop offset="1" stop-color="#8FD256"/></linearGradient>
<rect x="305.8" y="212.8" width="5.1" height="25.9" fill="url(#gd)"/>
<text x="312.5" y="215.6" font-size="5.9" fill="#111">4e+4</text>
<text x="312.5" y="220.4" font-size="5.9" fill="#111">3e+3</text>
<text x="312.5" y="225.6" font-size="5.9" fill="#111">2e+2</text>
<text x="312.5" y="230.6" font-size="5.9" fill="#111">2e+1</text>
<text x="312.5" y="235.8" font-size="5.9" fill="#111">1e+0</text>
<text x="312.5" y="240.9" font-size="5.9" fill="#111">1e-1</text>
<text x="0" y="0" font-size="22.5" font-weight="bold" transform="translate(347.3 173.5) scale(1 1)">e</text>
<rect x="471.5" y="166" width="11.4" height="8" fill="#F0DC64" stroke="#888" stroke-width="0.5"/>
<text x="486.1" y="173.4" font-size="8.5" fill="#111" stroke="#111" stroke-width="0.32">ConWT</text>
<rect x="524.7" y="166" width="11.4" height="8" fill="#A8DCEB" stroke="#888" stroke-width="0.5"/>
<text x="539.3" y="173.4" font-size="8.5" fill="#111" stroke="#111" stroke-width="0.32">ConRP</text>
<rect x="573.8" y="166" width="11.4" height="8" fill="#B9C3C8" stroke="#888" stroke-width="0.5"/>
<text x="588.4" y="173.4" font-size="8.5" fill="#111" stroke="#111" stroke-width="0.32">TAKRP</text>
<line x1="401.5" y1="178" x2="401.5" y2="392" stroke="#d8d8d8" stroke-width="0.5" stroke-dasharray="0.8,1.2"/>
<line x1="410.4" y1="178" x2="410.4" y2="392" stroke="#d8d8d8" stroke-width="0.5" stroke-dasharray="0.8,1.2"/>
<line x1="419.3" y1="178" x2="419.3" y2="392" stroke="#d8d8d8" stroke-width="0.5" stroke-dasharray="0.8,1.2"/>
<line x1="428.2" y1="178" x2="428.2" y2="392" stroke="#d8d8d8" stroke-width="0.5" stroke-dasharray="0.8,1.2"/>
<line x1="437.1" y1="178" x2="437.1" y2="392" stroke="#d8d8d8" stroke-width="0.5" stroke-dasharray="0.8,1.2"/>
<line x1="446" y1="178" x2="446" y2="392" stroke="#d8d8d8" stroke-width="0.5" stroke-dasharray="0.8,1.2"/>
<line x1="463.8" y1="178" x2="463.8" y2="392" stroke="#d8d8d8" stroke-width="0.5" stroke-dasharray="0.8,1.2"/>
<line x1="472.7" y1="178" x2="472.7" y2="392" stroke="#d8d8d8" stroke-width="0.5" stroke-dasharray="0.8,1.2"/>
<line x1="481.6" y1="178" x2="481.6" y2="392" stroke="#d8d8d8" stroke-width="0.5" stroke-dasharray="0.8,1.2"/>
<line x1="490.5" y1="178" x2="490.5" y2="392" stroke="#d8d8d8" stroke-width="0.5" stroke-dasharray="0.8,1.2"/>
<line x1="499.4" y1="178" x2="499.4" y2="392" stroke="#d8d8d8" stroke-width="0.5" stroke-dasharray="0.8,1.2"/>
<line x1="508.3" y1="178" x2="508.3" y2="392" stroke="#d8d8d8" stroke-width="0.5" stroke-dasharray="0.8,1.2"/>
<clipPath id="ecl"><rect x="325" y="150" width="200" height="260"/></clipPath>
<g clip-path="url(#ecl)">
<rect x="454.9" y="181.85" width="43.9" height="5.3" fill="#F0DC64" stroke="#8d8d8d" stroke-width="0.5"/>
<text x="452.3" y="186.55" font-size="5.75" font-weight="bold" text-anchor="end" fill="#151515">g__Corynebacterium</text>
<rect x="454.9" y="188.36" width="43.2" height="5.3" fill="#F0DC64" stroke="#8d8d8d" stroke-width="0.5"/>
<text x="452.3" y="193.06" font-size="5.75" font-weight="bold" text-anchor="end" fill="#151515">g__Staphylococcus</text>
<rect x="454.9" y="194.88" width="39.5" height="5.3" fill="#F0DC64" stroke="#8d8d8d" stroke-width="0.5"/>
<text x="452.3" y="199.58" font-size="5.75" font-weight="bold" text-anchor="end" fill="#151515">g__Faecalibaculum</text>
<rect x="454.9" y="201.39" width="38.7" height="5.3" fill="#F0DC64" stroke="#8d8d8d" stroke-width="0.5"/>
<text x="452.3" y="206.09" font-size="5.75" font-weight="bold" text-anchor="end" fill="#151515">g__Jeotgalicoccus</text>
<rect x="454.9" y="207.91" width="37.5" height="5.3" fill="#F0DC64" stroke="#8d8d8d" stroke-width="0.5"/>
<text x="452.3" y="212.61" font-size="5.75" font-weight="bold" text-anchor="end" fill="#151515">g__Turicibacter</text>
<rect x="454.9" y="214.42" width="36.7" height="5.3" fill="#F0DC64" stroke="#8d8d8d" stroke-width="0.5"/>
<text x="452.3" y="219.12" font-size="5.75" font-weight="bold" text-anchor="end" fill="#151515">g__Romboutsia</text>
<rect x="454.9" y="220.94" width="35.8" height="5.3" fill="#F0DC64" stroke="#8d8d8d" stroke-width="0.5"/>
<text x="452.3" y="225.64" font-size="5.75" font-weight="bold" text-anchor="end" fill="#151515">g__Methylobacterium-Methylorubrum</text>
<rect x="454.9" y="227.45" width="35" height="5.3" fill="#F0DC64" stroke="#8d8d8d" stroke-width="0.5"/>
<text x="452.3" y="232.16" font-size="5.75" font-weight="bold" text-anchor="end" fill="#151515">g__A2</text>
<rect x="454.9" y="233.97" width="34.3" height="5.3" fill="#F0DC64" stroke="#8d8d8d" stroke-width="0.5"/>
<text x="452.3" y="238.67" font-size="5.75" font-weight="bold" text-anchor="end" fill="#151515">g__norank_o__RF39</text>
<rect x="454.9" y="240.48" width="34" height="5.3" fill="#F0DC64" stroke="#8d8d8d" stroke-width="0.5"/>
<text x="452.3" y="245.19" font-size="5.75" font-weight="bold" text-anchor="end" fill="#151515">g__Candidatus_Arthromitus</text>
<rect x="454.9" y="247" width="33.8" height="5.3" fill="#F0DC64" stroke="#8d8d8d" stroke-width="0.5"/>
<text x="452.3" y="251.7" font-size="5.75" font-weight="bold" text-anchor="end" fill="#151515">g__norank_o__Coriobacteriales</text>
<rect x="454.9" y="253.51" width="33.5" height="5.3" fill="#F0DC64" stroke="#8d8d8d" stroke-width="0.5"/>
<text x="452.3" y="258.21" font-size="5.75" font-weight="bold" text-anchor="end" fill="#151515">g__norank_f__Oscillospiraceae</text>
<rect x="454.9" y="260.03" width="33.5" height="5.3" fill="#F0DC64" stroke="#8d8d8d" stroke-width="0.5"/>
<text x="452.3" y="264.73" font-size="5.75" font-weight="bold" text-anchor="end" fill="#151515">g__norank_f__Butyricicoccaceae</text>
<rect x="454.9" y="266.55" width="32.8" height="5.3" fill="#F0DC64" stroke="#8d8d8d" stroke-width="0.5"/>
<text x="452.3" y="271.25" font-size="5.75" font-weight="bold" text-anchor="end" fill="#151515">g__unclassified_k__norank_d__Bacteria</text>
<rect x="454.9" y="273.06" width="32" height="5.3" fill="#F0DC64" stroke="#8d8d8d" stroke-width="0.5"/>
<text x="452.3" y="277.76" font-size="5.75" font-weight="bold" text-anchor="end" fill="#151515">g__unclassified_o__Coriobacteriales</text>
<rect x="454.9" y="279.58" width="32" height="5.3" fill="#F0DC64" stroke="#8d8d8d" stroke-width="0.5"/>
<text x="452.3" y="284.28" font-size="5.75" font-weight="bold" text-anchor="end" fill="#151515">g__Eubacterium_ruminantium_group</text>
<rect x="454.9" y="286.09" width="31.5" height="5.3" fill="#F0DC64" stroke="#8d8d8d" stroke-width="0.5"/>
<text x="452.3" y="290.79" font-size="5.75" font-weight="bold" text-anchor="end" fill="#151515">g__Ruminococcus_torques_group</text>
<rect x="454.9" y="292.61" width="31.5" height="5.3" fill="#F0DC64" stroke="#8d8d8d" stroke-width="0.5"/>
<text x="452.3" y="297.31" font-size="5.75" font-weight="bold" text-anchor="end" fill="#151515">g__Lachnospiraceae_UCG-001</text>
<rect x="454.9" y="299.12" width="31.5" height="5.3" fill="#F0DC64" stroke="#8d8d8d" stroke-width="0.5"/>
<text x="452.3" y="303.82" font-size="5.75" font-weight="bold" text-anchor="end" fill="#151515">g__Erysipelotrichaceae_UCG-003</text>
<rect x="454.9" y="305.63" width="30.8" height="5.3" fill="#F0DC64" stroke="#8d8d8d" stroke-width="0.5"/>
<text x="452.3" y="310.33" font-size="5.75" font-weight="bold" text-anchor="end" fill="#151515">g__Dubosiella</text>
<rect x="454.9" y="312.15" width="29.6" height="5.3" fill="#F0DC64" stroke="#8d8d8d" stroke-width="0.5"/>
<text x="452.3" y="316.85" font-size="5.75" font-weight="bold" text-anchor="end" fill="#151515">g__Blautia</text>
<rect x="454.9" y="318.67" width="29.6" height="5.3" fill="#F0DC64" stroke="#8d8d8d" stroke-width="0.5"/>
<text x="452.3" y="323.37" font-size="5.75" font-weight="bold" text-anchor="end" fill="#151515">g__Aerococcus</text>
<rect x="454.9" y="325.18" width="28.6" height="5.3" fill="#F0DC64" stroke="#8d8d8d" stroke-width="0.5"/>
<text x="452.3" y="329.88" font-size="5.75" font-weight="bold" text-anchor="end" fill="#151515">g__Allobaculum</text>
<rect x="454.9" y="331.7" width="28.6" height="5.3" fill="#F0DC64" stroke="#8d8d8d" stroke-width="0.5"/>
<text x="452.3" y="336.4" font-size="5.75" font-weight="bold" text-anchor="end" fill="#151515">g__Atopostipes</text>
<rect x="454.9" y="338.21" width="28.6" height="5.3" fill="#F0DC64" stroke="#8d8d8d" stroke-width="0.5"/>
<text x="452.3" y="342.91" font-size="5.75" font-weight="bold" text-anchor="end" fill="#151515">g__norank_f__Eubacterium_coprostanoligenes_group</text>
<rect x="454.9" y="344.73" width="28.1" height="5.3" fill="#F0DC64" stroke="#8d8d8d" stroke-width="0.5"/>
<text x="452.3" y="349.43" font-size="5.75" font-weight="bold" text-anchor="end" fill="#151515">g__Sporosarcina</text>
<rect x="454.9" y="351.24" width="27.1" height="5.3" fill="#F0DC64" stroke="#8d8d8d" stroke-width="0.5"/>
<text x="452.3" y="355.94" font-size="5.75" font-weight="bold" text-anchor="end" fill="#151515">g__unclassified_c__Bacilli</text>
<rect x="454.9" y="357.75" width="26.6" height="5.3" fill="#F0DC64" stroke="#8d8d8d" stroke-width="0.5"/>
<text x="452.3" y="362.45" font-size="5.75" font-weight="bold" text-anchor="end" fill="#151515">g__norank_f__Erysipelotrichaceae</text>
<rect x="454.9" y="364.27" width="26.1" height="5.3" fill="#F0DC64" stroke="#8d8d8d" stroke-width="0.5"/>
<text x="452.3" y="368.97" font-size="5.75" font-weight="bold" text-anchor="end" fill="#151515">g__Ruminococcus_gauvreauii_group</text>
<rect x="454.9" y="370.79" width="25.3" height="5.3" fill="#F0DC64" stroke="#8d8d8d" stroke-width="0.5"/>
<text x="452.3" y="375.49" font-size="5.75" font-weight="bold" text-anchor="end" fill="#151515">g__norank_f__Eggerthellaceae</text>
</g>
<rect x="406.9" y="377.3" width="48" height="5.3" fill="#A8DCEB" stroke="#8d8d8d" stroke-width="0.5"/>
<text x="457.9" y="382" font-size="5.75" font-weight="bold" fill="#151515">g__Lactobacillus</text>
<rect x="420.9" y="383.82" width="34" height="5.3" fill="#A8DCEB" stroke="#8d8d8d" stroke-width="0.5"/>
<text x="457.9" y="388.52" font-size="5.75" font-weight="bold" fill="#151515">g__Bifidobacterium</text>
<line x1="401.5" y1="393" x2="508.3" y2="393" stroke="#222" stroke-width="0.8"/>
<line x1="401.5" y1="393" x2="401.5" y2="395.3" stroke="#222" stroke-width="0.7"/>
<text x="401.5" y="400.2" font-size="6" text-anchor="middle" fill="#222">6</text>
<line x1="410.4" y1="393" x2="410.4" y2="395.3" stroke="#222" stroke-width="0.7"/>
<text x="410.4" y="400.2" font-size="6" text-anchor="middle" fill="#222">5</text>
<line x1="419.3" y1="393" x2="419.3" y2="395.3" stroke="#222" stroke-width="0.7"/>
<text x="419.3" y="400.2" font-size="6" text-anchor="middle" fill="#222">4</text>
<line x1="428.2" y1="393" x2="428.2" y2="395.3" stroke="#222" stroke-width="0.7"/>
<text x="428.2" y="400.2" font-size="6" text-anchor="middle" fill="#222">3</text>
<line x1="437.1" y1="393" x2="437.1" y2="395.3" stroke="#222" stroke-width="0.7"/>
<text x="437.1" y="400.2" font-size="6" text-anchor="middle" fill="#222">2</text>
<line x1="446" y1="393" x2="446" y2="395.3" stroke="#222" stroke-width="0.7"/>
<text x="446" y="400.2" font-size="6" text-anchor="middle" fill="#222">1</text>
<line x1="454.9" y1="393" x2="454.9" y2="395.3" stroke="#222" stroke-width="0.7"/>
<text x="454.9" y="400.2" font-size="6" text-anchor="middle" fill="#222">0</text>
<line x1="463.8" y1="393" x2="463.8" y2="395.3" stroke="#222" stroke-width="0.7"/>
<text x="463.8" y="400.2" font-size="6" text-anchor="middle" fill="#222">1</text>
<line x1="472.7" y1="393" x2="472.7" y2="395.3" stroke="#222" stroke-width="0.7"/>
<text x="472.7" y="400.2" font-size="6" text-anchor="middle" fill="#222">2</text>
<line x1="481.6" y1="393" x2="481.6" y2="395.3" stroke="#222" stroke-width="0.7"/>
<text x="481.6" y="400.2" font-size="6" text-anchor="middle" fill="#222">3</text>
<line x1="490.5" y1="393" x2="490.5" y2="395.3" stroke="#222" stroke-width="0.7"/>
<text x="490.5" y="400.2" font-size="6" text-anchor="middle" fill="#222">4</text>
<line x1="499.4" y1="393" x2="499.4" y2="395.3" stroke="#222" stroke-width="0.7"/>
<text x="499.4" y="400.2" font-size="6" text-anchor="middle" fill="#222">5</text>
<line x1="508.3" y1="393" x2="508.3" y2="395.3" stroke="#222" stroke-width="0.7"/>
<text x="508.3" y="400.2" font-size="6" text-anchor="middle" fill="#222">6</text>
<text x="455.4" y="408.6" font-size="8.6" text-anchor="middle" fill="#111" stroke="#111" stroke-width="0.32">LDA Score</text>
<line x1="520.72" y1="190" x2="520.72" y2="392" stroke="#d8d8d8" stroke-width="0.5" stroke-dasharray="0.8,1.2"/>
<line x1="531.55" y1="190" x2="531.55" y2="392" stroke="#d8d8d8" stroke-width="0.5" stroke-dasharray="0.8,1.2"/>
<line x1="542.38" y1="190" x2="542.38" y2="392" stroke="#d8d8d8" stroke-width="0.5" stroke-dasharray="0.8,1.2"/>
<line x1="553.21" y1="190" x2="553.21" y2="392" stroke="#d8d8d8" stroke-width="0.5" stroke-dasharray="0.8,1.2"/>
<line x1="564.04" y1="190" x2="564.04" y2="392" stroke="#d8d8d8" stroke-width="0.5" stroke-dasharray="0.8,1.2"/>
<line x1="574.87" y1="190" x2="574.87" y2="392" stroke="#d8d8d8" stroke-width="0.5" stroke-dasharray="0.8,1.2"/>
<line x1="596.53" y1="190" x2="596.53" y2="392" stroke="#d8d8d8" stroke-width="0.5" stroke-dasharray="0.8,1.2"/>
<line x1="607.36" y1="190" x2="607.36" y2="392" stroke="#d8d8d8" stroke-width="0.5" stroke-dasharray="0.8,1.2"/>
<line x1="618.19" y1="190" x2="618.19" y2="392" stroke="#d8d8d8" stroke-width="0.5" stroke-dasharray="0.8,1.2"/>
<line x1="629.02" y1="190" x2="629.02" y2="392" stroke="#d8d8d8" stroke-width="0.5" stroke-dasharray="0.8,1.2"/>
<line x1="639.85" y1="190" x2="639.85" y2="392" stroke="#d8d8d8" stroke-width="0.5" stroke-dasharray="0.8,1.2"/>
<line x1="650.68" y1="190" x2="650.68" y2="392" stroke="#d8d8d8" stroke-width="0.5" stroke-dasharray="0.8,1.2"/>
<rect x="585.7" y="193.6" width="59.9" height="4.8" fill="#A8DCEB" stroke="#8d8d8d" stroke-width="0.5"/>
<text x="583.1" y="197.9" font-size="5.35" font-weight="bold" text-anchor="end" fill="#151515">g__Lactobacillus</text>
<rect x="585.7" y="199.98" width="38.1" height="4.8" fill="#A8DCEB" stroke="#8d8d8d" stroke-width="0.5"/>
<text x="583.1" y="204.28" font-size="5.35" font-weight="bold" text-anchor="end" fill="#151515">g__Ruminococcus</text>
<rect x="585.7" y="206.35" width="36.7" height="4.8" fill="#A8DCEB" stroke="#8d8d8d" stroke-width="0.5"/>
<text x="583.1" y="210.65" font-size="5.35" font-weight="bold" text-anchor="end" fill="#151515">g__Lachnoclostridium</text>
<rect x="585.7" y="212.73" width="36.2" height="4.8" fill="#A8DCEB" stroke="#8d8d8d" stroke-width="0.5"/>
<text x="583.1" y="217.03" font-size="5.35" font-weight="bold" text-anchor="end" fill="#151515">g__norank_f__Lachnospiraceae</text>
<rect x="585.7" y="219.11" width="32.8" height="4.8" fill="#A8DCEB" stroke="#8d8d8d" stroke-width="0.5"/>
<text x="583.1" y="223.41" font-size="5.35" font-weight="bold" text-anchor="end" fill="#151515">g__Enterorhabdus</text>
<rect x="530.5" y="225.48" width="55.2" height="4.8" fill="#B9C3C8" stroke="#6f7478" stroke-width="0.5"/>
<text x="588.7" y="229.78" font-size="5.35" font-weight="bold" fill="#151515">g__Romboutsia</text>
<rect x="533.1" y="231.86" width="52.6" height="4.8" fill="#B9C3C8" stroke="#6f7478" stroke-width="0.5"/>
<text x="588.7" y="236.16" font-size="5.35" font-weight="bold" fill="#151515">g__Streptococcus</text>
<rect x="536" y="238.24" width="49.7" height="4.8" fill="#B9C3C8" stroke="#6f7478" stroke-width="0.5"/>
<text x="588.7" y="242.54" font-size="5.35" font-weight="bold" fill="#151515">g__Turicibacter</text>
<rect x="537" y="244.62" width="48.7" height="4.8" fill="#B9C3C8" stroke="#6f7478" stroke-width="0.5"/>
<text x="588.7" y="248.92" font-size="5.35" font-weight="bold" fill="#151515">g__Corynebacterium</text>
<rect x="541.8" y="250.99" width="43.9" height="4.8" fill="#B9C3C8" stroke="#6f7478" stroke-width="0.5"/>
<text x="588.7" y="255.29" font-size="5.35" font-weight="bold" fill="#151515">g__Staphylococcus</text>
<rect x="547" y="257.37" width="38.7" height="4.8" fill="#B9C3C8" stroke="#6f7478" stroke-width="0.5"/>
<text x="588.7" y="261.67" font-size="5.35" font-weight="bold" fill="#151515">g__Aerococcus</text>
<rect x="547" y="263.75" width="38.7" height="4.8" fill="#B9C3C8" stroke="#6f7478" stroke-width="0.5"/>
<text x="588.7" y="268.05" font-size="5.35" font-weight="bold" fill="#151515">g__Kurthia</text>
<rect x="547.3" y="270.12" width="38.4" height="4.8" fill="#B9C3C8" stroke="#6f7478" stroke-width="0.5"/>
<text x="588.7" y="274.42" font-size="5.35" font-weight="bold" fill="#151515">g__Glutamicibacter</text>
<rect x="547.5" y="276.5" width="38.2" height="4.8" fill="#B9C3C8" stroke="#6f7478" stroke-width="0.5"/>
<text x="588.7" y="280.8" font-size="5.35" font-weight="bold" fill="#151515">g__Jeotgalicoccus</text>
<rect x="547.5" y="282.88" width="38.2" height="4.8" fill="#B9C3C8" stroke="#6f7478" stroke-width="0.5"/>
<text x="588.7" y="287.18" font-size="5.35" font-weight="bold" fill="#151515">g__Facklamia</text>
<rect x="549.1" y="289.25" width="36.6" height="4.8" fill="#B9C3C8" stroke="#6f7478" stroke-width="0.5"/>
<text x="588.7" y="293.55" font-size="5.35" font-weight="bold" fill="#151515">g__Weissella</text>
<rect x="549.9" y="295.63" width="35.8" height="4.8" fill="#B9C3C8" stroke="#6f7478" stroke-width="0.5"/>
<text x="588.7" y="299.93" font-size="5.35" font-weight="bold" fill="#151515">g__Dietzia</text>
<rect x="550.2" y="302.01" width="35.5" height="4.8" fill="#B9C3C8" stroke="#6f7478" stroke-width="0.5"/>
<text x="588.7" y="306.31" font-size="5.35" font-weight="bold" fill="#151515">g__Galbitalea</text>
<rect x="550.5" y="308.39" width="35.2" height="4.8" fill="#B9C3C8" stroke="#6f7478" stroke-width="0.5"/>
<text x="588.7" y="312.69" font-size="5.35" font-weight="bold" fill="#151515">g__Enterococcus</text>
<rect x="552.3" y="314.76" width="33.4" height="4.8" fill="#B9C3C8" stroke="#6f7478" stroke-width="0.5"/>
<text x="588.7" y="319.06" font-size="5.35" font-weight="bold" fill="#151515">g__Phyllobacterium</text>
<rect x="553.6" y="321.14" width="32.1" height="4.8" fill="#B9C3C8" stroke="#6f7478" stroke-width="0.5"/>
<text x="588.7" y="325.44" font-size="5.35" font-weight="bold" fill="#151515">g__Candidatus_Arthromitus</text>
<rect x="554.1" y="327.52" width="31.6" height="4.8" fill="#B9C3C8" stroke="#6f7478" stroke-width="0.5"/>
<text x="588.7" y="331.82" font-size="5.35" font-weight="bold" fill="#151515">g__Clostridium_sensu_stricto_1</text>
<rect x="554.1" y="333.89" width="31.6" height="4.8" fill="#B9C3C8" stroke="#6f7478" stroke-width="0.5"/>
<text x="588.7" y="338.19" font-size="5.35" font-weight="bold" fill="#151515">g__Methylobacterium-Methylorubrum</text>
<rect x="554.9" y="340.27" width="30.8" height="4.8" fill="#B9C3C8" stroke="#6f7478" stroke-width="0.5"/>
<text x="588.7" y="344.57" font-size="5.35" font-weight="bold" fill="#151515">g__Sporosarcina</text>
<rect x="555.2" y="346.65" width="30.5" height="4.8" fill="#B9C3C8" stroke="#6f7478" stroke-width="0.5"/>
<text x="588.7" y="350.95" font-size="5.35" font-weight="bold" fill="#151515">g__Blautia</text>
<rect x="557" y="353.02" width="28.7" height="4.8" fill="#B9C3C8" stroke="#6f7478" stroke-width="0.5"/>
<text x="588.7" y="357.32" font-size="5.35" font-weight="bold" fill="#151515">g__unclassified_c__Bacilli</text>
<rect x="557.8" y="359.4" width="27.9" height="4.8" fill="#B9C3C8" stroke="#6f7478" stroke-width="0.5"/>
<text x="588.7" y="363.7" font-size="5.35" font-weight="bold" fill="#151515">g__Atopostipes</text>
<rect x="558.9" y="365.78" width="26.8" height="4.8" fill="#B9C3C8" stroke="#6f7478" stroke-width="0.5"/>
<text x="588.7" y="370.08" font-size="5.35" font-weight="bold" fill="#151515">g__Enteractinococcus</text>
<rect x="559.1" y="372.16" width="26.6" height="4.8" fill="#B9C3C8" stroke="#6f7478" stroke-width="0.5"/>
<text x="588.7" y="376.46" font-size="5.35" font-weight="bold" fill="#151515">g__Bergeyella</text>
<rect x="561" y="378.53" width="24.7" height="4.8" fill="#B9C3C8" stroke="#6f7478" stroke-width="0.5"/>
<text x="588.7" y="382.83" font-size="5.35" font-weight="bold" fill="#151515">g__Jeotgalibaca</text>
<rect x="562.8" y="384.91" width="22.9" height="4.8" fill="#B9C3C8" stroke="#6f7478" stroke-width="0.5"/>
<text x="588.7" y="389.21" font-size="5.35" font-weight="bold" fill="#151515">g__Ignavigranum</text>
<line x1="520.72" y1="393.8" x2="650.68" y2="393.8" stroke="#222" stroke-width="0.8"/>
<line x1="520.72" y1="393.8" x2="520.72" y2="396.1" stroke="#222" stroke-width="0.7"/>
<text x="520.72" y="401" font-size="6" text-anchor="middle" fill="#222">6</text>
<line x1="531.55" y1="393.8" x2="531.55" y2="396.1" stroke="#222" stroke-width="0.7"/>
<text x="531.55" y="401" font-size="6" text-anchor="middle" fill="#222">5</text>
<line x1="542.38" y1="393.8" x2="542.38" y2="396.1" stroke="#222" stroke-width="0.7"/>
<text x="542.38" y="401" font-size="6" text-anchor="middle" fill="#222">4</text>
<line x1="553.21" y1="393.8" x2="553.21" y2="396.1" stroke="#222" stroke-width="0.7"/>
<text x="553.21" y="401" font-size="6" text-anchor="middle" fill="#222">3</text>
<line x1="564.04" y1="393.8" x2="564.04" y2="396.1" stroke="#222" stroke-width="0.7"/>
<text x="564.04" y="401" font-size="6" text-anchor="middle" fill="#222">2</text>
<line x1="574.87" y1="393.8" x2="574.87" y2="396.1" stroke="#222" stroke-width="0.7"/>
<text x="574.87" y="401" font-size="6" text-anchor="middle" fill="#222">1</text>
<line x1="585.7" y1="393.8" x2="585.7" y2="396.1" stroke="#222" stroke-width="0.7"/>
<text x="585.7" y="401" font-size="6" text-anchor="middle" fill="#222">0</text>
<line x1="596.53" y1="393.8" x2="596.53" y2="396.1" stroke="#222" stroke-width="0.7"/>
<text x="596.53" y="401" font-size="6" text-anchor="middle" fill="#222">1</text>
<line x1="607.36" y1="393.8" x2="607.36" y2="396.1" stroke="#222" stroke-width="0.7"/>
<text x="607.36" y="401" font-size="6" text-anchor="middle" fill="#222">2</text>
<line x1="618.19" y1="393.8" x2="618.19" y2="396.1" stroke="#222" stroke-width="0.7"/>
<text x="618.19" y="401" font-size="6" text-anchor="middle" fill="#222">3</text>
<line x1="629.02" y1="393.8" x2="629.02" y2="396.1" stroke="#222" stroke-width="0.7"/>
<text x="629.02" y="401" font-size="6" text-anchor="middle" fill="#222">4</text>
<line x1="639.85" y1="393.8" x2="639.85" y2="396.1" stroke="#222" stroke-width="0.7"/>
<text x="639.85" y="401" font-size="6" text-anchor="middle" fill="#222">5</text>
<line x1="650.68" y1="393.8" x2="650.68" y2="396.1" stroke="#222" stroke-width="0.7"/>
<text x="650.68" y="401" font-size="6" text-anchor="middle" fill="#222">6</text>
<text x="589.2" y="408.8" font-size="8.6" text-anchor="middle" fill="#111" stroke="#111" stroke-width="0.32">LDA Score</text>
<text x="0" y="0" font-size="20.5" font-weight="bold" transform="translate(1 433.5) scale(1 1)">f</text>
<text x="122.3" y="422.8" font-size="8.4" fill="#111" stroke="#111" stroke-width="0.32">Kruskal-Wallis H test bar plot</text>
<rect x="99.3" y="429.7" width="11.6" height="7.8" fill="#EDD84A" stroke="#777" stroke-width="0.5"/>
<text x="113.6" y="436.9" font-size="8.2" fill="#111" stroke="#111" stroke-width="0.32">ConWT</text>
<rect x="152.1" y="429.3" width="11.6" height="7.8" fill="#A5D9E8" stroke="#777" stroke-width="0.5"/>
<text x="166.4" y="436.5" font-size="8.2" fill="#111" stroke="#111" stroke-width="0.32">ConRP</text>
<rect x="201.3" y="428.3" width="11.6" height="7.8" fill="#97A2A8" stroke="#777" stroke-width="0.5"/>
<text x="215.6" y="435.5" font-size="8.2" fill="#111" stroke="#111" stroke-width="0.32">TAKRP</text>
<rect x="70.7" y="442.7" width="189.2" height="16.9" fill="#EDEDED"/>
<rect x="70.7" y="443.2" width="89.82" height="5.1" fill="#EDD84A" stroke="#b3a23a" stroke-width="0.5"/>
<rect x="70.7" y="448.8" width="180.59" height="5.1" fill="#A5D9E8" stroke="#7fa9b6" stroke-width="0.5"/>
<rect x="70.7" y="454.4" width="67.18" height="5.1" fill="#97A2A8" stroke="#6f7a80" stroke-width="0.5"/>
<text x="40.2" y="452.9" font-size="8.4" text-anchor="middle" fill="#111" stroke="#111" stroke-width="0.32">Lactobacillus</text>
<polygon points="267.9,449.75 268.32,450.82 269.47,450.89 268.58,451.62 268.87,452.73 267.9,452.12 266.93,452.73 267.22,451.62 266.33,450.89 267.48,450.82" fill="#EE2A24"/>
<polygon points="270.7,449.75 271.12,450.82 272.27,450.89 271.38,451.62 271.67,452.73 270.7,452.12 269.73,452.73 270.02,451.62 269.13,450.89 270.28,450.82" fill="#EE2A24"/>
<polygon points="273.5,449.75 273.92,450.82 275.07,450.89 274.18,451.62 274.47,452.73 273.5,452.12 272.53,452.73 272.82,451.62 271.93,450.89 273.08,450.82" fill="#EE2A24"/>
<text x="280.3" y="453.7" font-size="6.9" fill="#111" stroke="#111" stroke-width="0.2">0.0009186</text>
<rect x="70.7" y="462.8" width="189.2" height="16.9" fill="#EDEDED"/>
<rect x="70.7" y="463.3" width="5.85" height="5.1" fill="#EDD84A" stroke="#b3a23a" stroke-width="0.5"/>
<rect x="70.7" y="474.5" width="47.17" height="5.1" fill="#97A2A8" stroke="#6f7a80" stroke-width="0.5"/>
<text x="39.2" y="473" font-size="8.4" text-anchor="middle" fill="#111" stroke="#111" stroke-width="0.32">Romboutsia</text>
<polygon points="267.9,469.85 268.32,470.92 269.47,470.99 268.58,471.72 268.87,472.83 267.9,472.22 266.93,472.83 267.22,471.72 266.33,470.99 267.48,470.92" fill="#EE2A24"/>
<polygon points="270.7,469.85 271.12,470.92 272.27,470.99 271.38,471.72 271.67,472.83 270.7,472.22 269.73,472.83 270.02,471.72 269.13,470.99 270.28,470.92" fill="#EE2A24"/>
<text x="280.3" y="473.8" font-size="6.9" fill="#111" stroke="#111" stroke-width="0.2">0.009516</text>
<rect x="70.7" y="482.9" width="189.2" height="16.9" fill="#EDEDED"/>
<rect x="70.7" y="483.4" width="35.48" height="5.1" fill="#EDD84A" stroke="#b3a23a" stroke-width="0.5"/>
<rect x="70.7" y="494.6" width="10" height="5.1" fill="#97A2A8" stroke="#6f7a80" stroke-width="0.5"/>
<text x="36.6" y="493.1" font-size="8.4" text-anchor="middle" fill="#111" stroke="#111" stroke-width="0.32">Corynebacterium</text>
<polygon points="267.9,489.95 268.32,491.02 269.47,491.09 268.58,491.82 268.87,492.93 267.9,492.32 266.93,492.93 267.22,491.82 266.33,491.09 267.48,491.02" fill="#EE2A24"/>
<polygon points="270.7,489.95 271.12,491.02 272.27,491.09 271.38,491.82 271.67,492.93 270.7,492.32 269.73,492.93 270.02,491.82 269.13,491.09 270.28,491.02" fill="#EE2A24"/>
<text x="280.3" y="493.9" font-size="6.9" fill="#111" stroke="#111" stroke-width="0.2">0.0024</text>
<rect x="70.7" y="503" width="189.2" height="16.9" fill="#EDEDED"/>
<rect x="70.7" y="503.5" width="27.93" height="5.1" fill="#EDD84A" stroke="#b3a23a" stroke-width="0.5"/>
<rect x="70.7" y="514.7" width="3.02" height="5.1" fill="#97A2A8" stroke="#6f7a80" stroke-width="0.5"/>
<text x="37.7" y="513.2" font-size="8.4" text-anchor="middle" fill="#111" stroke="#111" stroke-width="0.32">Staphylococcus</text>
<polygon points="267.9,510.05 268.32,511.12 269.47,511.19 268.58,511.92 268.87,513.03 267.9,512.42 266.93,513.03 267.22,511.92 266.33,511.19 267.48,511.12" fill="#EE2A24"/>
<polygon points="270.7,510.05 271.12,511.12 272.27,511.19 271.38,511.92 271.67,513.03 270.7,512.42 269.73,513.03 270.02,511.92 269.13,511.19 270.28,511.12" fill="#EE2A24"/>
<polygon points="273.5,510.05 273.92,511.12 275.07,511.19 274.18,511.92 274.47,513.03 273.5,512.42 272.53,513.03 272.82,511.92 271.93,511.19 273.08,511.12" fill="#EE2A24"/>
<text x="280.3" y="514" font-size="6.9" fill="#111" stroke="#111" stroke-width="0.2">0.0004916</text>
<rect x="70.7" y="523.1" width="189.2" height="16.9" fill="#EDEDED"/>
<rect x="70.7" y="523.6" width="5.85" height="5.1" fill="#EDD84A" stroke="#b3a23a" stroke-width="0.5"/>
<rect x="70.7" y="534.8" width="16.98" height="5.1" fill="#97A2A8" stroke="#6f7a80" stroke-width="0.5"/>
<text x="39.1" y="535" font-size="8.4" text-anchor="middle" fill="#111" stroke="#111" stroke-width="0.32">Turicibacter</text>
<polygon points="267.9,530.15 268.32,531.22 269.47,531.29 268.58,532.02 268.87,533.13 267.9,532.52 266.93,533.13 267.22,532.02 266.33,531.29 267.48,531.22" fill="#EE2A24"/>
<polygon points="270.7,530.15 271.12,531.22 272.27,531.29 271.38,532.02 271.67,533.13 270.7,532.52 269.73,533.13 270.02,532.02 269.13,531.29 270.28,531.22" fill="#EE2A24"/>
<text x="280.3" y="534.1" font-size="6.9" fill="#111" stroke="#111" stroke-width="0.2">0.003963</text>
<line x1="70.7" y1="442.2" x2="70.7" y2="541.4" stroke="#8a8a8a" stroke-width="0.9"/>
<line x1="70.7" y1="541.4" x2="259.4" y2="541.4" stroke="#333" stroke-width="0.8"/>
<line x1="70.7" y1="541.4" x2="70.7" y2="543.5" stroke="#333" stroke-width="0.7"/>
<text x="70.7" y="549.2" font-size="6.5" text-anchor="middle" fill="#111" stroke="#111" stroke-width="0.32">0</text>
<line x1="89.57" y1="541.4" x2="89.57" y2="543.5" stroke="#333" stroke-width="0.7"/>
<text x="89.57" y="549.2" font-size="6.5" text-anchor="middle" fill="#111" stroke="#111" stroke-width="0.32">10</text>
<line x1="108.44" y1="541.4" x2="108.44" y2="543.5" stroke="#333" stroke-width="0.7"/>
<text x="108.44" y="549.2" font-size="6.5" text-anchor="middle" fill="#111" stroke="#111" stroke-width="0.32">20</text>
<line x1="127.31" y1="541.4" x2="127.31" y2="543.5" stroke="#333" stroke-width="0.7"/>
<text x="127.31" y="549.2" font-size="6.5" text-anchor="middle" fill="#111" stroke="#111" stroke-width="0.32">30</text>
<line x1="146.18" y1="541.4" x2="146.18" y2="543.5" stroke="#333" stroke-width="0.7"/>
<text x="146.18" y="549.2" font-size="6.5" text-anchor="middle" fill="#111" stroke="#111" stroke-width="0.32">40</text>
<line x1="165.05" y1="541.4" x2="165.05" y2="543.5" stroke="#333" stroke-width="0.7"/>
<text x="165.05" y="549.2" font-size="6.5" text-anchor="middle" fill="#111" stroke="#111" stroke-width="0.32">50</text>
<line x1="183.92" y1="541.4" x2="183.92" y2="543.5" stroke="#333" stroke-width="0.7"/>
<text x="183.92" y="549.2" font-size="6.5" text-anchor="middle" fill="#111" stroke="#111" stroke-width="0.32">60</text>
<line x1="202.79" y1="541.4" x2="202.79" y2="543.5" stroke="#333" stroke-width="0.7"/>
<text x="202.79" y="549.2" font-size="6.5" text-anchor="middle" fill="#111" stroke="#111" stroke-width="0.32">70</text>
<line x1="221.66" y1="541.4" x2="221.66" y2="543.5" stroke="#333" stroke-width="0.7"/>
<text x="221.66" y="549.2" font-size="6.5" text-anchor="middle" fill="#111" stroke="#111" stroke-width="0.32">80</text>
<line x1="240.53" y1="541.4" x2="240.53" y2="543.5" stroke="#333" stroke-width="0.7"/>
<text x="240.53" y="549.2" font-size="6.5" text-anchor="middle" fill="#111" stroke="#111" stroke-width="0.32">90</text>
<line x1="259.4" y1="541.4" x2="259.4" y2="543.5" stroke="#333" stroke-width="0.7"/>
<text x="259.4" y="549.2" font-size="6.5" text-anchor="middle" fill="#111" stroke="#111" stroke-width="0.32">100</text>
<text x="166.4" y="558.6" font-size="8.3" text-anchor="middle" fill="#111" stroke="#111" stroke-width="0.32">Mean proportion(%)</text>
<text x="313.4" y="493.5" font-size="8.2" text-anchor="middle" fill="#111" transform="rotate(90 313.4 493.5)" stroke="#111" stroke-width="0.32">Pvalue</text>
<text x="0" y="0" font-size="20.5" font-weight="bold" transform="translate(1.3 572.5) scale(1 1)">h</text>
<text x="142" y="574" font-size="8.2" text-anchor="middle" fill="#111" stroke="#111" stroke-width="0.32">Gram negative</text>
<rect x="70.9" y="578.9" width="5.8" height="13.8" fill="#E8AE8C"/>
<rect x="76.7" y="578.9" width="2.4" height="13.8" fill="#86D9F0"/>
<rect x="79.1" y="578.9" width="2.3" height="13.8" fill="#8CA3B9"/>
<rect x="81.4" y="578.9" width="2.1" height="13.8" fill="#EE8650"/>
<rect x="83.5" y="578.9" width="5.8" height="13.8" fill="#5BA7E8"/>
<rect x="89.3" y="578.9" width="8.9" height="13.8" fill="#6B6566"/>
<line x1="68.9" y1="585.8" x2="70.9" y2="585.8" stroke="#555" stroke-width="0.7"/>
<text x="64.8" y="588.7" font-size="8.2" text-anchor="end" fill="#111" stroke="#111" stroke-width="0.32">ConWT</text>
<rect x="70.9" y="600.8" width="32.5" height="14" fill="#E8AE8C"/>
<rect x="103.4" y="600.8" width="25.6" height="14" fill="#86D9F0"/>
<rect x="129" y="600.8" width="15.5" height="14" fill="#8CA3B9"/>
<rect x="144.5" y="600.8" width="13.3" height="14" fill="#EE8650"/>
<rect x="157.8" y="600.8" width="8.9" height="14" fill="#5BA7E8"/>
<rect x="166.7" y="600.8" width="34.3" height="14" fill="#6B6566"/>
<line x1="68.9" y1="607.8" x2="70.9" y2="607.8" stroke="#555" stroke-width="0.7"/>
<text x="64.8" y="610.7" font-size="8.2" text-anchor="end" fill="#111" stroke="#111" stroke-width="0.32">ConRP</text>
<rect x="70.9" y="623.3" width="12.1" height="13.7" fill="#E8AE8C"/>
<rect x="83" y="623.3" width="6.3" height="13.7" fill="#86D9F0"/>
<rect x="89.3" y="623.3" width="4.9" height="13.7" fill="#8CA3B9"/>
<rect x="94.2" y="623.3" width="5.2" height="13.7" fill="#EE8650"/>
<rect x="99.4" y="623.3" width="15.6" height="13.7" fill="#6B6566"/>
<line x1="68.9" y1="630.15" x2="70.9" y2="630.15" stroke="#555" stroke-width="0.7"/>
<text x="64.8" y="633.05" font-size="8.2" text-anchor="end" fill="#111" stroke="#111" stroke-width="0.32">TAKRP</text>
<line x1="70.9" y1="574.7" x2="70.9" y2="641.2" stroke="#555" stroke-width="0.9"/>
<line x1="70.9" y1="641.2" x2="204.5" y2="641.2" stroke="#333" stroke-width="0.9"/>
<line x1="70.9" y1="641.2" x2="70.9" y2="643.5" stroke="#333" stroke-width="0.8"/>
<text x="73.5" y="646.5" font-size="8.5" text-anchor="end" fill="#111" transform="rotate(-45 73.5 646.5)" stroke="#111" stroke-width="0.32">0</text>
<line x1="87.6" y1="641.2" x2="87.6" y2="643.5" stroke="#333" stroke-width="0.8"/>
<text x="90.2" y="646.5" font-size="8.5" text-anchor="end" fill="#111" transform="rotate(-45 90.2 646.5)" stroke="#111" stroke-width="0.32">0.002</text>
<line x1="104.3" y1="641.2" x2="104.3" y2="643.5" stroke="#333" stroke-width="0.8"/>
<text x="106.9" y="646.5" font-size="8.5" text-anchor="end" fill="#111" transform="rotate(-45 106.9 646.5)" stroke="#111" stroke-width="0.32">0.004</text>
<line x1="121" y1="641.2" x2="121" y2="643.5" stroke="#333" stroke-width="0.8"/>
<text x="123.6" y="646.5" font-size="8.5" text-anchor="end" fill="#111" transform="rotate(-45 123.6 646.5)" stroke="#111" stroke-width="0.32">0.006</text>
<line x1="137.7" y1="641.2" x2="137.7" y2="643.5" stroke="#333" stroke-width="0.8"/>
<text x="140.3" y="646.5" font-size="8.5" text-anchor="end" fill="#111" transform="rotate(-45 140.3 646.5)" stroke="#111" stroke-width="0.32">0.008</text>
<line x1="154.4" y1="641.2" x2="154.4" y2="643.5" stroke="#333" stroke-width="0.8"/>
<text x="157" y="646.5" font-size="8.5" text-anchor="end" fill="#111" transform="rotate(-45 157 646.5)" stroke="#111" stroke-width="0.32">0.01</text>
<line x1="171.1" y1="641.2" x2="171.1" y2="643.5" stroke="#333" stroke-width="0.8"/>
<text x="173.7" y="646.5" font-size="8.5" text-anchor="end" fill="#111" transform="rotate(-45 173.7 646.5)" stroke="#111" stroke-width="0.32">0.012</text>
<line x1="187.8" y1="641.2" x2="187.8" y2="643.5" stroke="#333" stroke-width="0.8"/>
<text x="190.4" y="646.5" font-size="8.5" text-anchor="end" fill="#111" transform="rotate(-45 190.4 646.5)" stroke="#111" stroke-width="0.32">0.014</text>
<line x1="204.5" y1="641.2" x2="204.5" y2="643.5" stroke="#333" stroke-width="0.8"/>
<text x="207.1" y="646.5" font-size="8.5" text-anchor="end" fill="#111" transform="rotate(-45 207.1 646.5)" stroke="#111" stroke-width="0.32">0.016</text>
<text x="148" y="673.9" font-size="8.2" text-anchor="middle" fill="#111" stroke="#111" stroke-width="0.32">Relative abundance</text>
<rect x="217.7" y="578.5" width="6.8" height="6.8" fill="#E8AE8C"/>
<text x="225.9" y="584.8" font-size="8.2" fill="#111" stroke="#111" stroke-width="0.32">Stenotrophomonas</text>
<rect x="217.7" y="591" width="6.8" height="6.8" fill="#86D9F0"/>
<text x="225.9" y="597.3" font-size="8.2" fill="#111" stroke="#111" stroke-width="0.32">Brevundimonas</text>
<rect x="217.7" y="602.7" width="6.8" height="6.8" fill="#8CA3B9"/>
<rect x="217.7" y="615.8" width="6.8" height="6.8" fill="#EE8650"/>
<text x="225.9" y="622.1" font-size="8.2" fill="#111" stroke="#111" stroke-width="0.32">Delftia</text>
<rect x="217.7" y="627.5" width="6.8" height="6.8" fill="#5BA7E8"/>
<text x="225.9" y="633.8" font-size="8.2" fill="#111" stroke="#111" stroke-width="0.32">Candidatus_Saccharimonas</text>
<rect x="217.7" y="639.2" width="6.8" height="6.8" fill="#6B6566"/>
<text x="225.9" y="645.5" font-size="8.2" fill="#111" stroke="#111" stroke-width="0.32">others</text>
<text x="225.9" y="605.6" font-size="8.2" fill="#111" stroke="#111" stroke-width="0.32">Allorhizobium-Neorhizobium-</text>
<text x="225.9" y="612.2" font-size="8.2" fill="#111" stroke="#111" stroke-width="0.32">Pararhizobium-Rhizobium</text>
<text x="0" y="0" font-size="20.5" font-weight="bold" transform="translate(1.7 699) scale(1 1)">i</text>
<text x="7.9" y="709.8" font-size="8.2" fill="#111" stroke="#111" stroke-width="0.32">Heatmap of KEGG Pathway Level1</text>
<text x="28" y="719.2" font-size="8.2" text-anchor="middle" fill="#111" stroke="#111" stroke-width="0.32">ConWT</text>
<text x="60.4" y="719.2" font-size="8.2" text-anchor="middle" fill="#111" stroke="#111" stroke-width="0.32">ConRP</text>
<text x="94.6" y="719.2" font-size="8.2" text-anchor="middle" fill="#111" stroke="#111" stroke-width="0.32">TAKRP</text>
<rect x="7.9" y="719.7" width="35" height="3.8" fill="#E9C93F"/>
<rect x="42.9" y="719.7" width="34.7" height="3.8" fill="#5CDDEA"/>
<rect x="77.6" y="719.7" width="34.5" height="3.8" fill="#9A9FA3"/>
<clipPath id="icl"><rect x="0" y="690" width="229" height="130"/></clipPath>
<rect x="7.9" y="725" width="35" height="13.13" fill="#DF8A45" stroke="#ffffff" stroke-width="0.35"/>
<rect x="42.9" y="725" width="34.7" height="13.13" fill="#DD8535" stroke="#ffffff" stroke-width="0.35"/>
<rect x="77.6" y="725" width="34.5" height="13.13" fill="#E0914A" stroke="#ffffff" stroke-width="0.35"/>
<text x="113.2" y="734.57" font-size="8.3" fill="#111" stroke="#111" stroke-width="0.32">Metabolism</text>
<rect x="7.9" y="738.13" width="35" height="13.13" fill="#F6F9F2" stroke="#ffffff" stroke-width="0.35"/>
<rect x="42.9" y="738.13" width="34.7" height="13.13" fill="#FBF8F4" stroke="#ffffff" stroke-width="0.35"/>
<rect x="77.6" y="738.13" width="34.5" height="13.13" fill="#F4F9EE" stroke="#ffffff" stroke-width="0.35"/>
<text x="113.2" y="747.7" font-size="8.3" fill="#111" stroke="#111" stroke-width="0.32">Genetic Information Processing</text>
<rect x="7.9" y="751.26" width="35" height="13.13" fill="#E6F4DC" stroke="#ffffff" stroke-width="0.35"/>
<rect x="42.9" y="751.26" width="34.7" height="13.13" fill="#EEF7E8" stroke="#ffffff" stroke-width="0.35"/>
<rect x="77.6" y="751.26" width="34.5" height="13.13" fill="#E4F3DA" stroke="#ffffff" stroke-width="0.35"/>
<text x="113.2" y="760.83" font-size="8.3" fill="#111" stroke="#111" stroke-width="0.32">Environmental Information Processing</text>
<rect x="7.9" y="764.39" width="35" height="13.13" fill="#C6E7A9" stroke="#ffffff" stroke-width="0.35"/>
<rect x="42.9" y="764.39" width="34.7" height="13.13" fill="#D3ECBD" stroke="#ffffff" stroke-width="0.35"/>
<rect x="77.6" y="764.39" width="34.5" height="13.13" fill="#C6E7A9" stroke="#ffffff" stroke-width="0.35"/>
<text x="113.2" y="773.96" font-size="8.3" fill="#111" stroke="#111" stroke-width="0.32">Human Diseases</text>
<rect x="7.9" y="777.52" width="35" height="13.13" fill="#BBE298" stroke="#ffffff" stroke-width="0.35"/>
<rect x="42.9" y="777.52" width="34.7" height="13.13" fill="#BEE39D" stroke="#ffffff" stroke-width="0.35"/>
<rect x="77.6" y="777.52" width="34.5" height="13.13" fill="#BDE39A" stroke="#ffffff" stroke-width="0.35"/>
<text x="113.2" y="787.09" font-size="8.3" fill="#111" stroke="#111" stroke-width="0.32">Cellular Processes</text>
<rect x="7.9" y="790.65" width="35" height="13.13" fill="#A0D86C" stroke="#ffffff" stroke-width="0.35"/>
<rect x="42.9" y="790.65" width="34.7" height="13.13" fill="#A3D971" stroke="#ffffff" stroke-width="0.35"/>
<rect x="77.6" y="790.65" width="34.5" height="13.13" fill="#A3D971" stroke="#ffffff" stroke-width="0.35"/>
<text x="113.2" y="800.22" font-size="8.3" fill="#111" stroke="#111" stroke-width="0.32">Organismal Systems</text>
<linearGradient id="gi" x1="0" y1="0" x2="0" y2="1"><stop offset="0" stop-color="#DE8432"/><stop offset="0.5" stop-color="#FFFFFF"/><stop offset="1" stop-color="#8FD256"/></linearGradient>
<rect x="167.8" y="705.8" width="6.3" height="30.1" fill="url(#gi)"/>
<text x="175.8" y="707.8" font-size="5.6" fill="#111">5e+7</text>
<text x="175.8" y="713.8" font-size="5.6" fill="#111">2e+7</text>
<text x="175.8" y="719.8" font-size="5.6" fill="#111">9e+6</text>
<text x="175.8" y="726" font-size="5.6" fill="#111">4e+6</text>
<text x="175.8" y="732" font-size="5.6" fill="#111">2e+6</text>
<text x="175.8" y="737.9" font-size="5.6" fill="#111">8e+5</text>
<text x="0" y="0" font-size="20.5" font-weight="bold" transform="translate(334.7 426) scale(1 1)">g</text>
<rect x="397.4" y="517.9" width="11.4" height="1.7" fill="#EFC2A8" stroke="#4a4a4a" stroke-width="0.9"/>
<circle cx="400.5" cy="516.6" r="1.35" fill="#000"/>
<circle cx="403.2" cy="514.5" r="1.35" fill="#000"/>
<circle cx="406" cy="514.5" r="1.35" fill="#000"/>
<circle cx="401" cy="518" r="1.35" fill="#000"/>
<circle cx="404" cy="518" r="1.35" fill="#000"/>
<circle cx="407" cy="518" r="1.35" fill="#000"/>
<rect x="412.6" y="499" width="11" height="20.6" fill="#F8F4E0" stroke="#4a4a4a" stroke-width="0.9"/>
<line x1="418.1" y1="499" x2="418.1" y2="491.5" stroke="#555" stroke-width="1.1"/>
<line x1="415.5" y1="491.5" x2="420.7" y2="491.5" stroke="#555" stroke-width="1.1"/>
<circle cx="417.9" cy="445" r="1.35" fill="#000"/>
<circle cx="416.4" cy="490.7" r="1.35" fill="#000"/>
<circle cx="419.2" cy="490.7" r="1.35" fill="#000"/>
<circle cx="417.9" cy="506.3" r="1.35" fill="#000"/>
<circle cx="413.5" cy="513.9" r="1.35" fill="#000"/>
<circle cx="416.4" cy="513.9" r="1.35" fill="#000"/>
<circle cx="419.2" cy="513.9" r="1.35" fill="#000"/>
<circle cx="422.3" cy="513.9" r="1.35" fill="#000"/>
<rect x="427.4" y="514.4" width="11.2" height="5.2" fill="url(#dots)" stroke="#4a4a4a" stroke-width="0.9"/>
<line x1="433" y1="514.4" x2="433" y2="512" stroke="#555" stroke-width="1.1"/>
<line x1="430.4" y1="512" x2="435.6" y2="512" stroke="#555" stroke-width="1.1"/>
<circle cx="433" cy="505.7" r="1.35" fill="#000"/>
<circle cx="433" cy="508.6" r="1.35" fill="#000"/>
<circle cx="430" cy="510.6" r="1.35" fill="#000"/>
<circle cx="433" cy="512" r="1.35" fill="#000"/>
<circle cx="430" cy="519.2" r="1.35" fill="#000"/>
<circle cx="433" cy="519.2" r="1.35" fill="#000"/>
<circle cx="436.3" cy="519.2" r="1.35" fill="#000"/>
<line x1="392.3" y1="424.3" x2="392.3" y2="519.6" stroke="#333" stroke-width="1.1"/>
<line x1="392.3" y1="519.6" x2="444.8" y2="519.6" stroke="#333" stroke-width="1.1"/>
<line x1="389.7" y1="424.3" x2="392.3" y2="424.3" stroke="#333" stroke-width="1.1"/>
<text x="388.7" y="428" font-size="10.5" font-weight="bold" text-anchor="end">0.15</text>
<line x1="389.7" y1="456" x2="392.3" y2="456" stroke="#333" stroke-width="1.1"/>
<text x="388.7" y="459.7" font-size="10.5" font-weight="bold" text-anchor="end">0.10</text>
<line x1="389.7" y1="487.7" x2="392.3" y2="487.7" stroke="#333" stroke-width="1.1"/>
<text x="388.7" y="491.4" font-size="10.5" font-weight="bold" text-anchor="end">0.05</text>
<line x1="389.7" y1="519.6" x2="392.3" y2="519.6" stroke="#333" stroke-width="1.1"/>
<text x="388.7" y="523.3" font-size="10.5" font-weight="bold" text-anchor="end">0.00</text>
<line x1="403.1" y1="519.6" x2="403.1" y2="522.1" stroke="#333" stroke-width="1.1"/>
<line x1="418.1" y1="519.6" x2="418.1" y2="522.1" stroke="#333" stroke-width="1.1"/>
<line x1="433" y1="519.6" x2="433" y2="522.1" stroke="#333" stroke-width="1.1"/>
<text x="404.6" y="528.6" font-size="8" font-weight="bold" text-anchor="end" transform="rotate(-45 404.6 528.6)">ConWT</text>
<text x="419.6" y="528.6" font-size="8" font-weight="bold" text-anchor="end" transform="rotate(-45 419.6 528.6)">ConRP</text>
<text x="434.5" y="528.6" font-size="8" font-weight="bold" text-anchor="end" transform="rotate(-45 434.5 528.6)">TAKRP</text>
<line x1="404.6" y1="438.5" x2="418.3" y2="438.5" stroke="#3a3a3a" stroke-width="1.3"/>
<line x1="404.6" y1="435.7" x2="404.6" y2="441.3" stroke="#3a3a3a" stroke-width="1.3"/>
<line x1="418.3" y1="435.7" x2="418.3" y2="441.3" stroke="#3a3a3a" stroke-width="1.3"/>
<polygon points="411.45,430.55 412.01,432.13 413.68,432.17 412.35,433.19 412.83,434.8 411.45,433.85 410.07,434.8 410.55,433.19 409.22,432.17 410.89,432.13" fill="#1a1a1a"/>
<text x="352.7" y="471.95" font-size="10.5" font-weight="bold" text-anchor="middle" transform="rotate(-90 352.7 471.95)">Proportions of</text>
<text x="364.1" y="471.95" font-size="10.5" font-weight="bold" text-anchor="middle" transform="rotate(-90 364.1 471.95)">Gram negative(%)</text>
<rect x="506.9" y="454.7" width="11" height="63.9" fill="#EFC2A8" stroke="#4a4a4a" stroke-width="0.9"/>
<circle cx="508.5" cy="454.9" r="1.35" fill="#000"/>
<circle cx="511" cy="454.9" r="1.35" fill="#000"/>
<circle cx="513.5" cy="454.9" r="1.35" fill="#000"/>
<circle cx="516" cy="454.9" r="1.35" fill="#000"/>
<circle cx="510" cy="455.8" r="1.35" fill="#000"/>
<circle cx="514.5" cy="455.8" r="1.35" fill="#000"/>
<rect x="521.6" y="455.6" width="11" height="63" fill="#F8F4E0" stroke="#4a4a4a" stroke-width="0.9"/>
<circle cx="523" cy="455.5" r="1.35" fill="#000"/>
<circle cx="525.5" cy="455.5" r="1.35" fill="#000"/>
<circle cx="528" cy="455.5" r="1.35" fill="#000"/>
<circle cx="530.5" cy="455.5" r="1.35" fill="#000"/>
<circle cx="524.5" cy="457" r="1.35" fill="#000"/>
<circle cx="529" cy="457" r="1.35" fill="#000"/>
<circle cx="527" cy="461.7" r="1.35" fill="#000"/>
<rect x="536.4" y="454.7" width="11" height="63.9" fill="url(#dots)" stroke="#4a4a4a" stroke-width="0.9"/>
<circle cx="538" cy="454.9" r="1.35" fill="#000"/>
<circle cx="540.5" cy="454.9" r="1.35" fill="#000"/>
<circle cx="543" cy="454.9" r="1.35" fill="#000"/>
<circle cx="545.5" cy="454.9" r="1.35" fill="#000"/>
<circle cx="539.5" cy="455.8" r="1.35" fill="#000"/>
<circle cx="544" cy="455.8" r="1.35" fill="#000"/>
<line x1="501.2" y1="422.4" x2="501.2" y2="518.6" stroke="#333" stroke-width="1.1"/>
<line x1="501.2" y1="518.6" x2="553.4" y2="518.6" stroke="#333" stroke-width="1.1"/>
<line x1="498.6" y1="422.4" x2="501.2" y2="422.4" stroke="#333" stroke-width="1.1"/>
<text x="497.6" y="426.1" font-size="10.5" font-weight="bold" text-anchor="end">1.5</text>
<line x1="498.6" y1="454.7" x2="501.2" y2="454.7" stroke="#333" stroke-width="1.1"/>
<text x="497.6" y="458.4" font-size="10.5" font-weight="bold" text-anchor="end">1.0</text>
<line x1="498.6" y1="486.4" x2="501.2" y2="486.4" stroke="#333" stroke-width="1.1"/>
<text x="497.6" y="490.1" font-size="10.5" font-weight="bold" text-anchor="end">0.5</text>
<line x1="498.6" y1="518.6" x2="501.2" y2="518.6" stroke="#333" stroke-width="1.1"/>
<text x="497.6" y="522.3" font-size="10.5" font-weight="bold" text-anchor="end">0.0</text>
<line x1="512.4" y1="518.6" x2="512.4" y2="521.1" stroke="#333" stroke-width="1.1"/>
<line x1="527.1" y1="518.6" x2="527.1" y2="521.1" stroke="#333" stroke-width="1.1"/>
<line x1="541.9" y1="518.6" x2="541.9" y2="521.1" stroke="#333" stroke-width="1.1"/>
<text x="513.9" y="527.6" font-size="8" font-weight="bold" text-anchor="end" transform="rotate(-45 513.9 527.6)">ConWT</text>
<text x="528.6" y="527.6" font-size="8" font-weight="bold" text-anchor="end" transform="rotate(-45 528.6 527.6)">ConRP</text>
<text x="543.4" y="527.6" font-size="8" font-weight="bold" text-anchor="end" transform="rotate(-45 543.4 527.6)">TAKRP</text>
<text x="466" y="470.5" font-size="10.5" font-weight="bold" text-anchor="middle" transform="rotate(-90 466 470.5)">Proportions of</text>
<text x="477.4" y="470.5" font-size="10.5" font-weight="bold" text-anchor="middle" transform="rotate(-90 477.4 470.5)">Gram positive(%)</text>
<rect x="617.5" y="500.3" width="10.9" height="16.6" fill="#EFC2A8" stroke="#4a4a4a" stroke-width="0.9"/>
<line x1="622.95" y1="500.3" x2="622.95" y2="489.9" stroke="#555" stroke-width="1.1"/>
<line x1="620.35" y1="489.9" x2="625.55" y2="489.9" stroke="#555" stroke-width="1.1"/>
<circle cx="622.6" cy="450.7" r="1.35" fill="#000"/>
<circle cx="623" cy="501.4" r="1.35" fill="#000"/>
<circle cx="620.8" cy="510.3" r="1.35" fill="#000"/>
<circle cx="625.1" cy="509.6" r="1.35" fill="#000"/>
<circle cx="620.8" cy="514.5" r="1.35" fill="#000"/>
<circle cx="625.1" cy="514.5" r="1.35" fill="#000"/>
<rect x="632.6" y="461.6" width="11" height="55.3" fill="#F8F4E0" stroke="#4a4a4a" stroke-width="0.9"/>
<line x1="638.1" y1="461.6" x2="638.1" y2="453" stroke="#555" stroke-width="1.1"/>
<line x1="635.5" y1="453" x2="640.7" y2="453" stroke="#555" stroke-width="1.1"/>
<circle cx="637.9" cy="432" r="1.35" fill="#000"/>
<circle cx="637.9" cy="437.9" r="1.35" fill="#000"/>
<circle cx="637.9" cy="448.3" r="1.35" fill="#000"/>
<circle cx="637.9" cy="454.3" r="1.35" fill="#000"/>
<circle cx="637.9" cy="458" r="1.35" fill="#000"/>
<circle cx="637.9" cy="479.9" r="1.35" fill="#000"/>
<circle cx="637.9" cy="483" r="1.35" fill="#000"/>
<circle cx="637.9" cy="499.4" r="1.35" fill="#000"/>
<rect x="647.6" y="483.5" width="10.9" height="33.4" fill="url(#dots)" stroke="#4a4a4a" stroke-width="0.9"/>
<line x1="653.05" y1="483.5" x2="653.05" y2="470.2" stroke="#555" stroke-width="1.1"/>
<line x1="650.45" y1="470.2" x2="655.65" y2="470.2" stroke="#555" stroke-width="1.1"/>
<circle cx="652.7" cy="426.4" r="1.35" fill="#000"/>
<circle cx="652.7" cy="454.7" r="1.35" fill="#000"/>
<circle cx="652.7" cy="465.3" r="1.35" fill="#000"/>
<circle cx="652.7" cy="493.9" r="1.35" fill="#000"/>
<circle cx="652.7" cy="511.8" r="1.35" fill="#000"/>
<circle cx="650.8" cy="514.9" r="1.35" fill="#000"/>
<circle cx="654.6" cy="514.9" r="1.35" fill="#000"/>
<line x1="611.6" y1="419.3" x2="611.6" y2="516.9" stroke="#333" stroke-width="1.1"/>
<line x1="611.6" y1="516.9" x2="664.9" y2="516.9" stroke="#333" stroke-width="1.1"/>
<line x1="609" y1="419.3" x2="611.6" y2="419.3" stroke="#333" stroke-width="1.1"/>
<text x="608" y="423" font-size="10.5" font-weight="bold" text-anchor="end">0.3</text>
<line x1="609" y1="451.6" x2="611.6" y2="451.6" stroke="#333" stroke-width="1.1"/>
<text x="608" y="455.3" font-size="10.5" font-weight="bold" text-anchor="end">0.2</text>
<line x1="609" y1="484.4" x2="611.6" y2="484.4" stroke="#333" stroke-width="1.1"/>
<text x="608" y="488.1" font-size="10.5" font-weight="bold" text-anchor="end">0.1</text>
<line x1="609" y1="516.9" x2="611.6" y2="516.9" stroke="#333" stroke-width="1.1"/>
<text x="608" y="520.6" font-size="10.5" font-weight="bold" text-anchor="end">0.0</text>
<line x1="622.95" y1="516.9" x2="622.95" y2="519.4" stroke="#333" stroke-width="1.1"/>
<line x1="638.1" y1="516.9" x2="638.1" y2="519.4" stroke="#333" stroke-width="1.1"/>
<line x1="653.05" y1="516.9" x2="653.05" y2="519.4" stroke="#333" stroke-width="1.1"/>
<text x="624.45" y="525.9" font-size="8" font-weight="bold" text-anchor="end" transform="rotate(-45 624.45 525.9)">ConWT</text>
<text x="639.6" y="525.9" font-size="8" font-weight="bold" text-anchor="end" transform="rotate(-45 639.6 525.9)">ConRP</text>
<text x="654.55" y="525.9" font-size="8" font-weight="bold" text-anchor="end" transform="rotate(-45 654.55 525.9)">TAKRP</text>
<line x1="623" y1="425.5" x2="637.2" y2="425.5" stroke="#3a3a3a" stroke-width="1.3"/>
<line x1="623" y1="422.7" x2="623" y2="428.3" stroke="#3a3a3a" stroke-width="1.3"/>
<line x1="637.2" y1="422.7" x2="637.2" y2="428.3" stroke="#3a3a3a" stroke-width="1.3"/>
<polygon points="630.1,417.55 630.66,419.13 632.33,419.17 631,420.19 631.48,421.8 630.1,420.85 628.72,421.8 629.2,420.19 627.87,419.17 629.54,419.13" fill="#1a1a1a"/>
<text x="581.6" y="476" font-size="11" font-weight="bold" text-anchor="middle" transform="rotate(-90 581.6 476)">Proportions of aerobic(%)</text>
<rect x="442.1" y="642.1" width="11.4" height="14.1" fill="#EFC2A8" stroke="#4a4a4a" stroke-width="0.9"/>
<line x1="447.8" y1="642.1" x2="447.8" y2="635.3" stroke="#555" stroke-width="1.1"/>
<line x1="445.2" y1="635.3" x2="450.4" y2="635.3" stroke="#555" stroke-width="1.1"/>
<circle cx="447.6" cy="614.6" r="1.35" fill="#000"/>
<circle cx="447.6" cy="634.9" r="1.35" fill="#000"/>
<circle cx="445.3" cy="648.6" r="1.35" fill="#000"/>
<circle cx="450" cy="648.6" r="1.35" fill="#000"/>
<circle cx="445.3" cy="651.5" r="1.35" fill="#000"/>
<circle cx="450" cy="651.5" r="1.35" fill="#000"/>
<rect x="457.1" y="648.2" width="11.2" height="8" fill="#F8F4E0" stroke="#4a4a4a" stroke-width="0.9"/>
<line x1="462.7" y1="648.2" x2="462.7" y2="644.8" stroke="#555" stroke-width="1.1"/>
<line x1="460.1" y1="644.8" x2="465.3" y2="644.8" stroke="#555" stroke-width="1.1"/>
<circle cx="459.8" cy="633.4" r="1.35" fill="#000"/>
<circle cx="464.7" cy="633.4" r="1.35" fill="#000"/>
<circle cx="462.7" cy="650" r="1.35" fill="#000"/>
<circle cx="459.8" cy="654.2" r="1.35" fill="#000"/>
<circle cx="464.7" cy="654.2" r="1.35" fill="#000"/>
<circle cx="467" cy="654.2" r="1.35" fill="#000"/>
<rect x="472.1" y="623.1" width="11" height="33.1" fill="url(#dots)" stroke="#4a4a4a" stroke-width="0.9"/>
<line x1="477.6" y1="623.1" x2="477.6" y2="611.7" stroke="#555" stroke-width="1.1"/>
<line x1="475" y1="611.7" x2="480.2" y2="611.7" stroke="#555" stroke-width="1.1"/>
<circle cx="477.4" cy="594.5" r="1.35" fill="#000"/>
<circle cx="481.6" cy="594.1" r="1.35" fill="#000"/>
<circle cx="477.4" cy="618.8" r="1.35" fill="#000"/>
<circle cx="473.6" cy="653.3" r="1.35" fill="#000"/>
<circle cx="477.4" cy="653.3" r="1.35" fill="#000"/>
<circle cx="481.9" cy="653.3" r="1.35" fill="#000"/>
<line x1="436.8" y1="559" x2="436.8" y2="656.2" stroke="#333" stroke-width="1.1"/>
<line x1="436.8" y1="656.2" x2="489.2" y2="656.2" stroke="#333" stroke-width="1.1"/>
<line x1="434.2" y1="559" x2="436.8" y2="559" stroke="#333" stroke-width="1.1"/>
<text x="433.2" y="562.7" font-size="10.5" font-weight="bold" text-anchor="end">1.5</text>
<line x1="434.2" y1="591.2" x2="436.8" y2="591.2" stroke="#333" stroke-width="1.1"/>
<text x="433.2" y="594.9" font-size="10.5" font-weight="bold" text-anchor="end">1.0</text>
<line x1="434.2" y1="623.5" x2="436.8" y2="623.5" stroke="#333" stroke-width="1.1"/>
<text x="433.2" y="627.2" font-size="10.5" font-weight="bold" text-anchor="end">0.5</text>
<line x1="434.2" y1="656.2" x2="436.8" y2="656.2" stroke="#333" stroke-width="1.1"/>
<text x="433.2" y="659.9" font-size="10.5" font-weight="bold" text-anchor="end">0.0</text>
<line x1="447.8" y1="656.2" x2="447.8" y2="658.7" stroke="#333" stroke-width="1.1"/>
<line x1="462.7" y1="656.2" x2="462.7" y2="658.7" stroke="#333" stroke-width="1.1"/>
<line x1="477.6" y1="656.2" x2="477.6" y2="658.7" stroke="#333" stroke-width="1.1"/>
<text x="449.3" y="665.2" font-size="8" font-weight="bold" text-anchor="end" transform="rotate(-45 449.3 665.2)">ConWT</text>
<text x="464.2" y="665.2" font-size="8" font-weight="bold" text-anchor="end" transform="rotate(-45 464.2 665.2)">ConRP</text>
<text x="479.1" y="665.2" font-size="8" font-weight="bold" text-anchor="end" transform="rotate(-45 479.1 665.2)">TAKRP</text>
<text x="401.6" y="607.6" font-size="10.5" font-weight="bold" text-anchor="middle" transform="rotate(-90 401.6 607.6)">Proportions of</text>
<text x="414.9" y="607.6" font-size="10.5" font-weight="bold" text-anchor="middle" transform="rotate(-90 414.9 607.6)">anaerobic(%)</text>
<rect x="579.3" y="586.9" width="11.2" height="67.5" fill="#EFC2A8" stroke="#4a4a4a" stroke-width="0.9"/>
<line x1="584.9" y1="586.9" x2="584.9" y2="576" stroke="#555" stroke-width="1.1"/>
<line x1="582.3" y1="576" x2="587.5" y2="576" stroke="#555" stroke-width="1.1"/>
<circle cx="579.7" cy="569.8" r="1.35" fill="#000"/>
<circle cx="584.8" cy="570.4" r="1.35" fill="#000"/>
<circle cx="589.5" cy="569.8" r="1.35" fill="#000"/>
<circle cx="584.8" cy="572.6" r="1.35" fill="#000"/>
<circle cx="584.8" cy="611.7" r="1.35" fill="#000"/>
<circle cx="584.8" cy="624.1" r="1.35" fill="#000"/>
<rect x="593.9" y="590.3" width="11" height="64.1" fill="#F8F4E0" stroke="#4a4a4a" stroke-width="0.9"/>
<line x1="599.4" y1="590.3" x2="599.4" y2="584.2" stroke="#555" stroke-width="1.1"/>
<line x1="596.8" y1="584.2" x2="602" y2="584.2" stroke="#555" stroke-width="1.1"/>
<circle cx="599.2" cy="570.7" r="1.35" fill="#000"/>
<circle cx="599.2" cy="576" r="1.35" fill="#000"/>
<circle cx="599.2" cy="580.2" r="1.35" fill="#000"/>
<circle cx="599.2" cy="590.9" r="1.35" fill="#000"/>
<circle cx="599.2" cy="596.6" r="1.35" fill="#000"/>
<circle cx="599.2" cy="599.8" r="1.35" fill="#000"/>
<circle cx="599.2" cy="619.3" r="1.35" fill="#000"/>
<rect x="608.7" y="620.3" width="10.8" height="34.1" fill="url(#dots)" stroke="#4a4a4a" stroke-width="0.9"/>
<line x1="614.1" y1="620.3" x2="614.1" y2="607.9" stroke="#555" stroke-width="1.1"/>
<line x1="611.5" y1="607.9" x2="616.7" y2="607.9" stroke="#555" stroke-width="1.1"/>
<circle cx="614.2" cy="583.3" r="1.35" fill="#000"/>
<circle cx="614.2" cy="588" r="1.35" fill="#000"/>
<circle cx="614.2" cy="593.1" r="1.35" fill="#000"/>
<circle cx="614.2" cy="621.6" r="1.35" fill="#000"/>
<circle cx="614.2" cy="650.5" r="1.35" fill="#000"/>
<circle cx="611.9" cy="652" r="1.35" fill="#000"/>
<circle cx="616" cy="652" r="1.35" fill="#000"/>
<line x1="573.4" y1="559.5" x2="573.4" y2="654.4" stroke="#333" stroke-width="1.1"/>
<line x1="573.4" y1="654.4" x2="625.6" y2="654.4" stroke="#333" stroke-width="1.1"/>
<line x1="570.8" y1="559.5" x2="573.4" y2="559.5" stroke="#333" stroke-width="1.1"/>
<text x="569.8" y="563.2" font-size="10.5" font-weight="bold" text-anchor="end">1.0</text>
<line x1="570.8" y1="578.9" x2="573.4" y2="578.9" stroke="#333" stroke-width="1.1"/>
<text x="569.8" y="582.6" font-size="10.5" font-weight="bold" text-anchor="end">0.8</text>
<line x1="570.8" y1="597.9" x2="573.4" y2="597.9" stroke="#333" stroke-width="1.1"/>
<text x="569.8" y="601.6" font-size="10.5" font-weight="bold" text-anchor="end">0.6</text>
<line x1="570.8" y1="616.9" x2="573.4" y2="616.9" stroke="#333" stroke-width="1.1"/>
<text x="569.8" y="620.6" font-size="10.5" font-weight="bold" text-anchor="end">0.4</text>
<line x1="570.8" y1="635.8" x2="573.4" y2="635.8" stroke="#333" stroke-width="1.1"/>
<text x="569.8" y="639.5" font-size="10.5" font-weight="bold" text-anchor="end">0.2</text>
<line x1="570.8" y1="654.4" x2="573.4" y2="654.4" stroke="#333" stroke-width="1.1"/>
<text x="569.8" y="658.1" font-size="10.5" font-weight="bold" text-anchor="end">0.0</text>
<line x1="584.9" y1="654.4" x2="584.9" y2="656.9" stroke="#333" stroke-width="1.1"/>
<line x1="599.4" y1="654.4" x2="599.4" y2="656.9" stroke="#333" stroke-width="1.1"/>
<line x1="614.1" y1="654.4" x2="614.1" y2="656.9" stroke="#333" stroke-width="1.1"/>
<text x="586.4" y="663.4" font-size="8" font-weight="bold" text-anchor="end" transform="rotate(-45 586.4 663.4)">ConWT</text>
<text x="600.9" y="663.4" font-size="8" font-weight="bold" text-anchor="end" transform="rotate(-45 600.9 663.4)">ConRP</text>
<text x="615.6" y="663.4" font-size="8" font-weight="bold" text-anchor="end" transform="rotate(-45 615.6 663.4)">TAKRP</text>
<text x="539" y="606.95" font-size="10.5" font-weight="bold" text-anchor="middle" transform="rotate(-90 539 606.95)">Proportions of</text>
<text x="552.3" y="606.95" font-size="10.5" font-weight="bold" text-anchor="middle" transform="rotate(-90 552.3 606.95)">facultatively anaerobic(%)</text>
<text x="0" y="0" font-size="20.5" font-weight="bold" transform="translate(254.8 700.5) scale(1 1)">j</text>
<text x="278.7" y="698.2" font-size="8.1" fill="#111" stroke="#111" stroke-width="0.32">KEGG Pathway Level2</text>
<rect x="377.9" y="690.5" width="11.8" height="7.8" fill="#EBD75A" stroke="#777" stroke-width="0.5"/>
<text x="392.4" y="698" font-size="8.1" fill="#111" stroke="#111" stroke-width="0.32">ConWT</text>
<rect x="430.8" y="690.5" width="11.8" height="7.8" fill="#A9E3EF" stroke="#777" stroke-width="0.5"/>
<text x="445.3" y="698" font-size="8.1" fill="#111" stroke="#111" stroke-width="0.32">ConRP</text>
<rect x="480.1" y="690.5" width="11.8" height="7.8" fill="#B9C1C5" stroke="#777" stroke-width="0.5"/>
<text x="494.6" y="698" font-size="8.1" fill="#111" stroke="#111" stroke-width="0.32">TAKRP</text>
<rect x="278.7" y="702.5" width="170.8" height="110.3" fill="none" stroke="#777" stroke-width="0.9"/>
<line x1="276.7" y1="702.5" x2="278.7" y2="702.5" stroke="#555" stroke-width="0.7"/>
<text x="276.1" y="705.1" font-size="7.5" text-anchor="end" fill="#222" stroke="#222" stroke-width="0.32">10</text>
<line x1="276.7" y1="714.76" x2="278.7" y2="714.76" stroke="#555" stroke-width="0.7"/>
<text x="276.1" y="717.36" font-size="7.5" text-anchor="end" fill="#222" stroke="#222" stroke-width="0.32">9</text>
<line x1="276.7" y1="727.02" x2="278.7" y2="727.02" stroke="#555" stroke-width="0.7"/>
<text x="276.1" y="729.62" font-size="7.5" text-anchor="end" fill="#222" stroke="#222" stroke-width="0.32">8</text>
<line x1="276.7" y1="739.28" x2="278.7" y2="739.28" stroke="#555" stroke-width="0.7"/>
<text x="276.1" y="741.88" font-size="7.5" text-anchor="end" fill="#222" stroke="#222" stroke-width="0.32">7</text>
<line x1="276.7" y1="751.54" x2="278.7" y2="751.54" stroke="#555" stroke-width="0.7"/>
<text x="276.1" y="754.14" font-size="7.5" text-anchor="end" fill="#222" stroke="#222" stroke-width="0.32">6</text>
<line x1="276.7" y1="763.8" x2="278.7" y2="763.8" stroke="#555" stroke-width="0.7"/>
<text x="276.1" y="766.4" font-size="7.5" text-anchor="end" fill="#222" stroke="#222" stroke-width="0.32">5</text>
<line x1="276.7" y1="776.06" x2="278.7" y2="776.06" stroke="#555" stroke-width="0.7"/>
<text x="276.1" y="778.66" font-size="7.5" text-anchor="end" fill="#222" stroke="#222" stroke-width="0.32">4</text>
<line x1="276.7" y1="788.32" x2="278.7" y2="788.32" stroke="#555" stroke-width="0.7"/>
<text x="276.1" y="790.92" font-size="7.5" text-anchor="end" fill="#222" stroke="#222" stroke-width="0.32">3</text>
<line x1="276.7" y1="800.58" x2="278.7" y2="800.58" stroke="#555" stroke-width="0.7"/>
<text x="276.1" y="803.18" font-size="7.5" text-anchor="end" fill="#222" stroke="#222" stroke-width="0.32">2</text>
<line x1="276.7" y1="812.84" x2="278.7" y2="812.84" stroke="#555" stroke-width="0.7"/>
<text x="276.1" y="815.44" font-size="7.5" text-anchor="end" fill="#222" stroke="#222" stroke-width="0.32">1</text>
<line x1="295.7" y1="812.8" x2="295.7" y2="815" stroke="#555" stroke-width="0.7"/>
<text x="298.1" y="819.6" font-size="8.2" text-anchor="end" fill="#111" transform="rotate(-45 298.1 819.6)" stroke="#111" stroke-width="0.3">Amino acid metabolism</text>
<line x1="329.7" y1="812.8" x2="329.7" y2="815" stroke="#555" stroke-width="0.7"/>
<text x="332.1" y="819.6" font-size="8.2" text-anchor="end" fill="#111" transform="rotate(-45 332.1 819.6)" stroke="#111" stroke-width="0.3">Energy metabolism</text>
<line x1="363.7" y1="812.8" x2="363.7" y2="815" stroke="#555" stroke-width="0.7"/>
<text x="366.1" y="819.6" font-size="8.2" text-anchor="end" fill="#111" transform="rotate(-45 366.1 819.6)" stroke="#111" stroke-width="0.3">Metabolism of cofactors and vitamins</text>
<line x1="397.6" y1="812.8" x2="397.6" y2="815" stroke="#555" stroke-width="0.7"/>
<text x="400" y="819.6" font-size="8.2" text-anchor="end" fill="#111" transform="rotate(-45 400 819.6)" stroke="#111" stroke-width="0.3">Lipid metabolism</text>
<line x1="431.5" y1="812.8" x2="431.5" y2="815" stroke="#555" stroke-width="0.7"/>
<text x="433.9" y="819.6" font-size="8.2" text-anchor="end" fill="#111" transform="rotate(-45 433.9 819.6)" stroke="#111" stroke-width="0.3">Xenobiotics biodegradation and metabolism</text>
<text x="264.2" y="757.65" font-size="8.2" text-anchor="middle" fill="#111" transform="rotate(-90 264.2 757.65)" stroke="#111" stroke-width="0.32">Proportions(%)</text>
<line x1="286.35" y1="734.4" x2="286.35" y2="740.7" stroke="#888" stroke-width="0.7"/>
<line x1="286.35" y1="753.3" x2="286.35" y2="757.7" stroke="#888" stroke-width="0.7"/>
<line x1="285.05" y1="734.4" x2="287.65" y2="734.4" stroke="#888" stroke-width="0.7"/>
<line x1="285.05" y1="757.7" x2="287.65" y2="757.7" stroke="#888" stroke-width="0.7"/>
<rect x="283.1" y="740.7" width="6.5" height="12.6" fill="#EBD75A" stroke="#666" stroke-width="0.6"/>
<line x1="283.1" y1="746.3" x2="289.6" y2="746.3" stroke="#111" stroke-width="0.9"/>
<line x1="294.2" y1="755" x2="294.2" y2="757.2" stroke="#888" stroke-width="0.7"/>
<line x1="294.2" y1="762.1" x2="294.2" y2="764.2" stroke="#888" stroke-width="0.7"/>
<line x1="292.92" y1="755" x2="295.48" y2="755" stroke="#888" stroke-width="0.7"/>
<line x1="292.92" y1="764.2" x2="295.48" y2="764.2" stroke="#888" stroke-width="0.7"/>
<rect x="291" y="757.2" width="6.4" height="4.9" fill="#A9E3EF" stroke="#666" stroke-width="0.6"/>
<line x1="291" y1="759.6" x2="297.4" y2="759.6" stroke="#111" stroke-width="0.9"/>
<line x1="302.7" y1="746.3" x2="302.7" y2="749" stroke="#888" stroke-width="0.7"/>
<line x1="302.7" y1="754.2" x2="302.7" y2="754.7" stroke="#888" stroke-width="0.7"/>
<line x1="301.3" y1="746.3" x2="304.1" y2="746.3" stroke="#888" stroke-width="0.7"/>
<line x1="301.3" y1="754.7" x2="304.1" y2="754.7" stroke="#888" stroke-width="0.7"/>
<rect x="299.2" y="749" width="7" height="5.2" fill="#B9C1C5" stroke="#666" stroke-width="0.6"/>
<line x1="299.2" y1="750.2" x2="306.2" y2="750.2" stroke="#111" stroke-width="0.9"/>
<line x1="320.45" y1="776.5" x2="320.45" y2="777.9" stroke="#888" stroke-width="0.7"/>
<line x1="320.45" y1="779.6" x2="320.45" y2="781" stroke="#888" stroke-width="0.7"/>
<line x1="319.15" y1="776.5" x2="321.75" y2="776.5" stroke="#888" stroke-width="0.7"/>
<line x1="319.15" y1="781" x2="321.75" y2="781" stroke="#888" stroke-width="0.7"/>
<rect x="317.2" y="777.9" width="6.5" height="1.7" fill="#EBD75A" stroke="#666" stroke-width="0.6"/>
<line x1="317.2" y1="778.8" x2="323.7" y2="778.8" stroke="#111" stroke-width="0.9"/>
<line x1="328.3" y1="779.6" x2="328.3" y2="780.1" stroke="#888" stroke-width="0.7"/>
<line x1="328.3" y1="781" x2="328.3" y2="781.6" stroke="#888" stroke-width="0.7"/>
<line x1="326.82" y1="779.6" x2="329.78" y2="779.6" stroke="#888" stroke-width="0.7"/>
<line x1="326.82" y1="781.6" x2="329.78" y2="781.6" stroke="#888" stroke-width="0.7"/>
<rect x="324.6" y="780" width="7.4" height="1.2" fill="#A9E3EF" stroke="#666" stroke-width="0.6"/>
<line x1="324.6" y1="780.6" x2="332" y2="780.6" stroke="#111" stroke-width="0.9"/>
<line x1="336.9" y1="775.2" x2="336.9" y2="778.2" stroke="#888" stroke-width="0.7"/>
<line x1="336.9" y1="781" x2="336.9" y2="782.2" stroke="#888" stroke-width="0.7"/>
<line x1="335.5" y1="775.2" x2="338.3" y2="775.2" stroke="#888" stroke-width="0.7"/>
<line x1="335.5" y1="782.2" x2="338.3" y2="782.2" stroke="#888" stroke-width="0.7"/>
<rect x="333.4" y="778.2" width="7" height="2.8" fill="#B9C1C5" stroke="#666" stroke-width="0.6"/>
<line x1="333.4" y1="779.5" x2="340.4" y2="779.5" stroke="#111" stroke-width="0.9"/>
<line x1="354.9" y1="775.8" x2="354.9" y2="779" stroke="#888" stroke-width="0.7"/>
<line x1="354.9" y1="784.6" x2="354.9" y2="788.5" stroke="#888" stroke-width="0.7"/>
<line x1="353.5" y1="775.8" x2="356.3" y2="775.8" stroke="#888" stroke-width="0.7"/>
<line x1="353.5" y1="788.5" x2="356.3" y2="788.5" stroke="#888" stroke-width="0.7"/>
<rect x="351.4" y="779" width="7" height="5.6" fill="#EBD75A" stroke="#666" stroke-width="0.6"/>
<line x1="351.4" y1="781.1" x2="358.4" y2="781.1" stroke="#111" stroke-width="0.9"/>
<line x1="362.8" y1="784.6" x2="362.8" y2="786" stroke="#888" stroke-width="0.7"/>
<line x1="362.8" y1="788.6" x2="362.8" y2="791.6" stroke="#888" stroke-width="0.7"/>
<line x1="361.4" y1="784.6" x2="364.2" y2="784.6" stroke="#888" stroke-width="0.7"/>
<line x1="361.4" y1="791.6" x2="364.2" y2="791.6" stroke="#888" stroke-width="0.7"/>
<rect x="359.3" y="786" width="7" height="2.6" fill="#A9E3EF" stroke="#666" stroke-width="0.6"/>
<line x1="359.3" y1="787.3" x2="366.3" y2="787.3" stroke="#111" stroke-width="0.9"/>
<line x1="370.85" y1="780.7" x2="370.85" y2="782.3" stroke="#888" stroke-width="0.7"/>
<line x1="370.85" y1="785.5" x2="370.85" y2="787.6" stroke="#888" stroke-width="0.7"/>
<line x1="369.39" y1="780.7" x2="372.31" y2="780.7" stroke="#888" stroke-width="0.7"/>
<line x1="369.39" y1="787.6" x2="372.31" y2="787.6" stroke="#888" stroke-width="0.7"/>
<rect x="367.2" y="782.3" width="7.3" height="3.2" fill="#B9C1C5" stroke="#666" stroke-width="0.6"/>
<line x1="367.2" y1="783.9" x2="374.5" y2="783.9" stroke="#111" stroke-width="0.9"/>
<line x1="388.9" y1="795" x2="388.9" y2="796" stroke="#888" stroke-width="0.7"/>
<line x1="388.9" y1="798.3" x2="388.9" y2="799" stroke="#888" stroke-width="0.7"/>
<line x1="387.42" y1="795" x2="390.38" y2="795" stroke="#888" stroke-width="0.7"/>
<line x1="387.42" y1="799" x2="390.38" y2="799" stroke="#888" stroke-width="0.7"/>
<rect x="385.2" y="796" width="7.4" height="2.3" fill="#EBD75A" stroke="#666" stroke-width="0.6"/>
<line x1="385.2" y1="797.2" x2="392.6" y2="797.2" stroke="#111" stroke-width="0.9"/>
<line x1="396.9" y1="794.3" x2="396.9" y2="794.6" stroke="#888" stroke-width="0.7"/>
<line x1="396.9" y1="795.3" x2="396.9" y2="795.6" stroke="#888" stroke-width="0.7"/>
<line x1="395.5" y1="794.3" x2="398.3" y2="794.3" stroke="#888" stroke-width="0.7"/>
<line x1="395.5" y1="795.6" x2="398.3" y2="795.6" stroke="#888" stroke-width="0.7"/>
<rect x="393.4" y="794.4" width="7" height="1.2" fill="#A9E3EF" stroke="#666" stroke-width="0.6"/>
<line x1="393.4" y1="795" x2="400.4" y2="795" stroke="#111" stroke-width="0.9"/>
<line x1="405" y1="795.8" x2="405" y2="796.2" stroke="#888" stroke-width="0.7"/>
<line x1="405" y1="797.4" x2="405" y2="797.8" stroke="#888" stroke-width="0.7"/>
<line x1="403.52" y1="795.8" x2="406.48" y2="795.8" stroke="#888" stroke-width="0.7"/>
<line x1="403.52" y1="797.8" x2="406.48" y2="797.8" stroke="#888" stroke-width="0.7"/>
<rect x="401.3" y="796.2" width="7.4" height="1.2" fill="#B9C1C5" stroke="#666" stroke-width="0.6"/>
<line x1="401.3" y1="796.8" x2="408.7" y2="796.8" stroke="#111" stroke-width="0.9"/>
<line x1="422.7" y1="806.2" x2="422.7" y2="806.9" stroke="#888" stroke-width="0.7"/>
<line x1="422.7" y1="808.6" x2="422.7" y2="809.5" stroke="#888" stroke-width="0.7"/>
<line x1="421.3" y1="806.2" x2="424.1" y2="806.2" stroke="#888" stroke-width="0.7"/>
<line x1="421.3" y1="809.5" x2="424.1" y2="809.5" stroke="#888" stroke-width="0.7"/>
<rect x="419.2" y="806.9" width="7" height="1.7" fill="#EBD75A" stroke="#666" stroke-width="0.6"/>
<line x1="419.2" y1="807.8" x2="426.2" y2="807.8" stroke="#111" stroke-width="0.9"/>
<line x1="431.1" y1="808.8" x2="431.1" y2="809.1" stroke="#888" stroke-width="0.7"/>
<line x1="431.1" y1="810" x2="431.1" y2="810.3" stroke="#888" stroke-width="0.7"/>
<line x1="429.7" y1="808.8" x2="432.5" y2="808.8" stroke="#888" stroke-width="0.7"/>
<line x1="429.7" y1="810.3" x2="432.5" y2="810.3" stroke="#888" stroke-width="0.7"/>
<rect x="427.6" y="809" width="7" height="1.2" fill="#A9E3EF" stroke="#666" stroke-width="0.6"/>
<line x1="427.6" y1="809.6" x2="434.6" y2="809.6" stroke="#111" stroke-width="0.9"/>
<line x1="439.15" y1="803.9" x2="439.15" y2="805.3" stroke="#888" stroke-width="0.7"/>
<line x1="439.15" y1="808.3" x2="439.15" y2="812.6" stroke="#888" stroke-width="0.7"/>
<line x1="437.69" y1="803.9" x2="440.61" y2="803.9" stroke="#888" stroke-width="0.7"/>
<line x1="437.69" y1="812.6" x2="440.61" y2="812.6" stroke="#888" stroke-width="0.7"/>
<rect x="435.5" y="805.3" width="7.3" height="3" fill="#B9C1C5" stroke="#666" stroke-width="0.6"/>
<line x1="435.5" y1="806.8" x2="442.8" y2="806.8" stroke="#111" stroke-width="0.9"/>
<line x1="285.7" y1="728.9" x2="294.8" y2="728.9" stroke="#333" stroke-width="0.8"/>
<line x1="285.7" y1="727.3" x2="285.7" y2="730.5" stroke="#333" stroke-width="0.8"/>
<line x1="294.8" y1="727.3" x2="294.8" y2="730.5" stroke="#333" stroke-width="0.8"/>
<text x="290.25" y="730.8" font-size="12.5" font-weight="bold" text-anchor="middle" fill="#111">**</text>
<line x1="294.5" y1="742.9" x2="303.6" y2="742.9" stroke="#333" stroke-width="0.8"/>
<line x1="294.5" y1="741.3" x2="294.5" y2="744.5" stroke="#333" stroke-width="0.8"/>
<line x1="303.6" y1="741.3" x2="303.6" y2="744.5" stroke="#333" stroke-width="0.8"/>
<text x="299.05" y="744.8" font-size="12.5" font-weight="bold" text-anchor="middle" fill="#111">**</text>
<line x1="320.7" y1="772.2" x2="329.9" y2="772.2" stroke="#333" stroke-width="0.8"/>
<line x1="320.7" y1="770.6" x2="320.7" y2="773.8" stroke="#333" stroke-width="0.8"/>
<line x1="329.9" y1="770.6" x2="329.9" y2="773.8" stroke="#333" stroke-width="0.8"/>
<text x="325.3" y="774.1" font-size="12.5" font-weight="bold" text-anchor="middle" fill="#111">*</text>
<line x1="353.7" y1="767.6" x2="362.4" y2="767.6" stroke="#333" stroke-width="0.8"/>
<line x1="353.7" y1="766" x2="353.7" y2="769.2" stroke="#333" stroke-width="0.8"/>
<line x1="362.4" y1="766" x2="362.4" y2="769.2" stroke="#333" stroke-width="0.8"/>
<text x="358.05" y="769.5" font-size="12.5" font-weight="bold" text-anchor="middle" fill="#111">*</text>
<line x1="362.4" y1="774.6" x2="371.5" y2="774.6" stroke="#333" stroke-width="0.8"/>
<line x1="362.4" y1="773" x2="362.4" y2="776.2" stroke="#333" stroke-width="0.8"/>
<line x1="371.5" y1="773" x2="371.5" y2="776.2" stroke="#333" stroke-width="0.8"/>
<text x="366.95" y="776.5" font-size="12.5" font-weight="bold" text-anchor="middle" fill="#111">*</text>
<line x1="387.7" y1="780.3" x2="397" y2="780.3" stroke="#333" stroke-width="0.8"/>
<line x1="387.7" y1="778.7" x2="387.7" y2="781.9" stroke="#333" stroke-width="0.8"/>
<line x1="397" y1="778.7" x2="397" y2="781.9" stroke="#333" stroke-width="0.8"/>
<text x="392.35" y="782.2" font-size="12.5" font-weight="bold" text-anchor="middle" fill="#111">**</text>
<line x1="397.5" y1="791.2" x2="406.6" y2="791.2" stroke="#333" stroke-width="0.8"/>
<line x1="397.5" y1="789.6" x2="397.5" y2="792.8" stroke="#333" stroke-width="0.8"/>
<line x1="406.6" y1="789.6" x2="406.6" y2="792.8" stroke="#333" stroke-width="0.8"/>
<text x="402.05" y="793.1" font-size="12.5" font-weight="bold" text-anchor="middle" fill="#111">**</text>
<line x1="423.7" y1="802.2" x2="432.5" y2="802.2" stroke="#333" stroke-width="0.8"/>
<line x1="423.7" y1="800.6" x2="423.7" y2="803.8" stroke="#333" stroke-width="0.8"/>
<line x1="432.5" y1="800.6" x2="432.5" y2="803.8" stroke="#333" stroke-width="0.8"/>
<text x="428.1" y="804.1" font-size="12.5" font-weight="bold" text-anchor="middle" fill="#111">*</text>
<rect x="475.4" y="702.5" width="206.1" height="111.1" fill="none" stroke="#777" stroke-width="0.9"/>
<line x1="473.4" y1="702.27" x2="475.4" y2="702.27" stroke="#555" stroke-width="0.7"/>
<text x="472.8" y="704.87" font-size="7.5" text-anchor="end" fill="#222" stroke="#222" stroke-width="0.32">1.8</text>
<line x1="473.4" y1="714.64" x2="475.4" y2="714.64" stroke="#555" stroke-width="0.7"/>
<text x="472.8" y="717.24" font-size="7.5" text-anchor="end" fill="#222" stroke="#222" stroke-width="0.32">1.6</text>
<line x1="473.4" y1="727.01" x2="475.4" y2="727.01" stroke="#555" stroke-width="0.7"/>
<text x="472.8" y="729.61" font-size="7.5" text-anchor="end" fill="#222" stroke="#222" stroke-width="0.32">1.4</text>
<line x1="473.4" y1="739.38" x2="475.4" y2="739.38" stroke="#555" stroke-width="0.7"/>
<text x="472.8" y="741.98" font-size="7.5" text-anchor="end" fill="#222" stroke="#222" stroke-width="0.32">1.2</text>
<line x1="473.4" y1="751.75" x2="475.4" y2="751.75" stroke="#555" stroke-width="0.7"/>
<text x="472.8" y="754.35" font-size="7.5" text-anchor="end" fill="#222" stroke="#222" stroke-width="0.32">1</text>
<line x1="473.4" y1="764.12" x2="475.4" y2="764.12" stroke="#555" stroke-width="0.7"/>
<text x="472.8" y="766.72" font-size="7.5" text-anchor="end" fill="#222" stroke="#222" stroke-width="0.32">0.8</text>
<line x1="473.4" y1="776.49" x2="475.4" y2="776.49" stroke="#555" stroke-width="0.7"/>
<text x="472.8" y="779.09" font-size="7.5" text-anchor="end" fill="#222" stroke="#222" stroke-width="0.32">0.6</text>
<line x1="473.4" y1="788.86" x2="475.4" y2="788.86" stroke="#555" stroke-width="0.7"/>
<text x="472.8" y="791.46" font-size="7.5" text-anchor="end" fill="#222" stroke="#222" stroke-width="0.32">0.4</text>
<line x1="473.4" y1="801.23" x2="475.4" y2="801.23" stroke="#555" stroke-width="0.7"/>
<text x="472.8" y="803.83" font-size="7.5" text-anchor="end" fill="#222" stroke="#222" stroke-width="0.32">0.2</text>
<line x1="473.4" y1="813.6" x2="475.4" y2="813.6" stroke="#555" stroke-width="0.7"/>
<text x="472.8" y="816.2" font-size="7.5" text-anchor="end" fill="#222" stroke="#222" stroke-width="0.32">0</text>
<line x1="496.3" y1="813.6" x2="496.3" y2="815.8" stroke="#555" stroke-width="0.7"/>
<text x="498.7" y="820.4" font-size="8.2" text-anchor="end" fill="#111" transform="rotate(-45 498.7 820.4)" stroke="#111" stroke-width="0.3">Cancer: overview</text>
<line x1="537.5" y1="813.6" x2="537.5" y2="815.8" stroke="#555" stroke-width="0.7"/>
<text x="539.9" y="820.4" font-size="8.2" text-anchor="end" fill="#111" transform="rotate(-45 539.9 820.4)" stroke="#111" stroke-width="0.3">Aging</text>
<line x1="578.6" y1="813.6" x2="578.6" y2="815.8" stroke="#555" stroke-width="0.7"/>
<text x="581" y="820.4" font-size="8.2" text-anchor="end" fill="#111" transform="rotate(-45 581 820.4)" stroke="#111" stroke-width="0.3">Nervous system</text>
<line x1="620.5" y1="813.6" x2="620.5" y2="815.8" stroke="#555" stroke-width="0.7"/>
<text x="622.9" y="820.4" font-size="8.2" text-anchor="end" fill="#111" transform="rotate(-45 622.9 820.4)" stroke="#111" stroke-width="0.3">Digestive system</text>
<line x1="661.7" y1="813.6" x2="661.7" y2="815.8" stroke="#555" stroke-width="0.7"/>
<text x="664.1" y="820.4" font-size="8.2" text-anchor="end" fill="#111" transform="rotate(-45 664.1 820.4)" stroke="#111" stroke-width="0.3">Development and regeneration</text>
<text x="458.6" y="758.05" font-size="8.2" text-anchor="middle" fill="#111" transform="rotate(-90 458.6 758.05)" stroke="#111" stroke-width="0.32">Proportions(%)</text>
<line x1="484.9" y1="760.7" x2="484.9" y2="764.4" stroke="#888" stroke-width="0.7"/>
<line x1="484.9" y1="777.9" x2="484.9" y2="781.4" stroke="#888" stroke-width="0.7"/>
<line x1="483.22" y1="760.7" x2="486.58" y2="760.7" stroke="#888" stroke-width="0.7"/>
<line x1="483.22" y1="781.4" x2="486.58" y2="781.4" stroke="#888" stroke-width="0.7"/>
<rect x="480.7" y="764.4" width="8.4" height="13.5" fill="#EBD75A" stroke="#666" stroke-width="0.6"/>
<line x1="480.7" y1="770.3" x2="489.1" y2="770.3" stroke="#111" stroke-width="0.9"/>
<line x1="494.8" y1="747.2" x2="494.8" y2="750.2" stroke="#888" stroke-width="0.7"/>
<line x1="494.8" y1="756.5" x2="494.8" y2="759.5" stroke="#888" stroke-width="0.7"/>
<line x1="493.12" y1="747.2" x2="496.48" y2="747.2" stroke="#888" stroke-width="0.7"/>
<line x1="493.12" y1="759.5" x2="496.48" y2="759.5" stroke="#888" stroke-width="0.7"/>
<rect x="490.6" y="750.2" width="8.4" height="6.3" fill="#A9E3EF" stroke="#666" stroke-width="0.6"/>
<line x1="490.6" y1="753.3" x2="499" y2="753.3" stroke="#111" stroke-width="0.9"/>
<line x1="504.6" y1="773.5" x2="504.6" y2="775.2" stroke="#888" stroke-width="0.7"/>
<line x1="504.6" y1="777.9" x2="504.6" y2="779.6" stroke="#888" stroke-width="0.7"/>
<line x1="502.96" y1="773.5" x2="506.24" y2="773.5" stroke="#888" stroke-width="0.7"/>
<line x1="502.96" y1="779.6" x2="506.24" y2="779.6" stroke="#888" stroke-width="0.7"/>
<rect x="500.5" y="775.2" width="8.2" height="2.7" fill="#B9C1C5" stroke="#666" stroke-width="0.6"/>
<line x1="500.5" y1="776.5" x2="508.7" y2="776.5" stroke="#111" stroke-width="0.9"/>
<line x1="526.2" y1="787.5" x2="526.2" y2="790.1" stroke="#888" stroke-width="0.7"/>
<line x1="526.2" y1="796.2" x2="526.2" y2="797.1" stroke="#888" stroke-width="0.7"/>
<line x1="524.44" y1="787.5" x2="527.96" y2="787.5" stroke="#888" stroke-width="0.7"/>
<line x1="524.44" y1="797.1" x2="527.96" y2="797.1" stroke="#888" stroke-width="0.7"/>
<rect x="521.8" y="790.1" width="8.8" height="6.1" fill="#EBD75A" stroke="#666" stroke-width="0.6"/>
<line x1="521.8" y1="793.6" x2="530.6" y2="793.6" stroke="#111" stroke-width="0.9"/>
<line x1="536" y1="798" x2="536" y2="800.1" stroke="#888" stroke-width="0.7"/>
<line x1="536" y1="800.8" x2="536" y2="801" stroke="#888" stroke-width="0.7"/>
<line x1="534.32" y1="798" x2="537.68" y2="798" stroke="#888" stroke-width="0.7"/>
<line x1="534.32" y1="801" x2="537.68" y2="801" stroke="#888" stroke-width="0.7"/>
<rect x="531.8" y="799.8" width="8.4" height="1.2" fill="#A9E3EF" stroke="#666" stroke-width="0.6"/>
<line x1="531.8" y1="800.4" x2="540.2" y2="800.4" stroke="#111" stroke-width="0.9"/>
<line x1="546.1" y1="788.4" x2="546.1" y2="792.2" stroke="#888" stroke-width="0.7"/>
<line x1="546.1" y1="794.5" x2="546.1" y2="796.2" stroke="#888" stroke-width="0.7"/>
<line x1="544.46" y1="788.4" x2="547.74" y2="788.4" stroke="#888" stroke-width="0.7"/>
<line x1="544.46" y1="796.2" x2="547.74" y2="796.2" stroke="#888" stroke-width="0.7"/>
<rect x="542" y="792.2" width="8.2" height="2.3" fill="#B9C1C5" stroke="#666" stroke-width="0.6"/>
<line x1="542" y1="793.4" x2="550.2" y2="793.4" stroke="#111" stroke-width="0.9"/>
<line x1="567.1" y1="796.2" x2="567.1" y2="798.9" stroke="#888" stroke-width="0.7"/>
<line x1="567.1" y1="802.4" x2="567.1" y2="803.8" stroke="#888" stroke-width="0.7"/>
<line x1="565.26" y1="796.2" x2="568.94" y2="796.2" stroke="#888" stroke-width="0.7"/>
<line x1="565.26" y1="803.8" x2="568.94" y2="803.8" stroke="#888" stroke-width="0.7"/>
<rect x="562.5" y="798.9" width="9.2" height="3.5" fill="#EBD75A" stroke="#666" stroke-width="0.6"/>
<line x1="562.5" y1="800.5" x2="571.7" y2="800.5" stroke="#111" stroke-width="0.9"/>
<line x1="577.5" y1="791.3" x2="577.5" y2="793.6" stroke="#888" stroke-width="0.7"/>
<line x1="577.5" y1="798.5" x2="577.5" y2="800.3" stroke="#888" stroke-width="0.7"/>
<line x1="575.86" y1="791.3" x2="579.14" y2="791.3" stroke="#888" stroke-width="0.7"/>
<line x1="575.86" y1="800.3" x2="579.14" y2="800.3" stroke="#888" stroke-width="0.7"/>
<rect x="573.4" y="793.6" width="8.2" height="4.9" fill="#A9E3EF" stroke="#666" stroke-width="0.6"/>
<line x1="573.4" y1="795.7" x2="581.6" y2="795.7" stroke="#111" stroke-width="0.9"/>
<line x1="587.3" y1="802" x2="587.3" y2="803.3" stroke="#888" stroke-width="0.7"/>
<line x1="587.3" y1="805" x2="587.3" y2="806.4" stroke="#888" stroke-width="0.7"/>
<line x1="585.58" y1="802" x2="589.02" y2="802" stroke="#888" stroke-width="0.7"/>
<line x1="585.58" y1="806.4" x2="589.02" y2="806.4" stroke="#888" stroke-width="0.7"/>
<rect x="583" y="803.3" width="8.6" height="1.7" fill="#B9C1C5" stroke="#666" stroke-width="0.6"/>
<line x1="583" y1="804.2" x2="591.6" y2="804.2" stroke="#111" stroke-width="0.9"/>
<line x1="608.55" y1="809.3" x2="608.55" y2="809.9" stroke="#888" stroke-width="0.7"/>
<line x1="608.55" y1="811.7" x2="608.55" y2="812.2" stroke="#888" stroke-width="0.7"/>
<line x1="606.89" y1="809.3" x2="610.21" y2="809.3" stroke="#888" stroke-width="0.7"/>
<line x1="606.89" y1="812.2" x2="610.21" y2="812.2" stroke="#888" stroke-width="0.7"/>
<rect x="604.4" y="809.9" width="8.3" height="1.8" fill="#EBD75A" stroke="#666" stroke-width="0.6"/>
<line x1="604.4" y1="810.8" x2="612.7" y2="810.8" stroke="#111" stroke-width="0.9"/>
<line x1="618.6" y1="811.8" x2="618.6" y2="812.6" stroke="#888" stroke-width="0.7"/>
<line x1="618.6" y1="813" x2="618.6" y2="813.3" stroke="#888" stroke-width="0.7"/>
<line x1="616.92" y1="811.8" x2="620.28" y2="811.8" stroke="#888" stroke-width="0.7"/>
<line x1="616.92" y1="813.3" x2="620.28" y2="813.3" stroke="#888" stroke-width="0.7"/>
<rect x="614.4" y="812.2" width="8.4" height="1.2" fill="#A9E3EF" stroke="#666" stroke-width="0.6"/>
<line x1="614.4" y1="812.8" x2="622.8" y2="812.8" stroke="#111" stroke-width="0.9"/>
<line x1="628.5" y1="807.1" x2="628.5" y2="808.5" stroke="#888" stroke-width="0.7"/>
<line x1="628.5" y1="810.8" x2="628.5" y2="813" stroke="#888" stroke-width="0.7"/>
<line x1="626.78" y1="807.1" x2="630.22" y2="807.1" stroke="#888" stroke-width="0.7"/>
<line x1="626.78" y1="813" x2="630.22" y2="813" stroke="#888" stroke-width="0.7"/>
<rect x="624.2" y="808.5" width="8.6" height="2.3" fill="#B9C1C5" stroke="#666" stroke-width="0.6"/>
<line x1="624.2" y1="809.6" x2="632.8" y2="809.6" stroke="#111" stroke-width="0.9"/>
<line x1="649.8" y1="813" x2="649.8" y2="813.1" stroke="#888" stroke-width="0.7"/>
<line x1="649.8" y1="813.3" x2="649.8" y2="813.4" stroke="#888" stroke-width="0.7"/>
<line x1="648.12" y1="813" x2="651.48" y2="813" stroke="#888" stroke-width="0.7"/>
<line x1="648.12" y1="813.4" x2="651.48" y2="813.4" stroke="#888" stroke-width="0.7"/>
<rect x="645.6" y="812.6" width="8.4" height="1.2" fill="#EBD75A" stroke="#666" stroke-width="0.6"/>
<line x1="645.6" y1="813.2" x2="654" y2="813.2" stroke="#111" stroke-width="0.9"/>
<line x1="659.8" y1="813" x2="659.8" y2="813.1" stroke="#888" stroke-width="0.7"/>
<line x1="659.8" y1="813.3" x2="659.8" y2="813.4" stroke="#888" stroke-width="0.7"/>
<line x1="658.12" y1="813" x2="661.48" y2="813" stroke="#888" stroke-width="0.7"/>
<line x1="658.12" y1="813.4" x2="661.48" y2="813.4" stroke="#888" stroke-width="0.7"/>
<rect x="655.6" y="812.6" width="8.4" height="1.2" fill="#A9E3EF" stroke="#666" stroke-width="0.6"/>
<line x1="655.6" y1="813.2" x2="664" y2="813.2" stroke="#111" stroke-width="0.9"/>
<line x1="669.7" y1="811.3" x2="669.7" y2="812.1" stroke="#888" stroke-width="0.7"/>
<line x1="669.7" y1="813.4" x2="669.7" y2="813.6" stroke="#888" stroke-width="0.7"/>
<line x1="667.98" y1="811.3" x2="671.42" y2="811.3" stroke="#888" stroke-width="0.7"/>
<line x1="667.98" y1="813.6" x2="671.42" y2="813.6" stroke="#888" stroke-width="0.7"/>
<rect x="665.4" y="812.1" width="8.6" height="1.3" fill="#B9C1C5" stroke="#666" stroke-width="0.6"/>
<line x1="665.4" y1="812.8" x2="674" y2="812.8" stroke="#111" stroke-width="0.9"/>
<line x1="485" y1="735.4" x2="494.7" y2="735.4" stroke="#333" stroke-width="0.8"/>
<line x1="485" y1="733.8" x2="485" y2="737" stroke="#333" stroke-width="0.8"/>
<line x1="494.7" y1="733.8" x2="494.7" y2="737" stroke="#333" stroke-width="0.8"/>
<text x="489.85" y="737.3" font-size="12.5" font-weight="bold" text-anchor="middle" fill="#111">**</text>
<line x1="494.7" y1="745" x2="504.3" y2="745" stroke="#333" stroke-width="0.8"/>
<line x1="494.7" y1="743.4" x2="494.7" y2="746.6" stroke="#333" stroke-width="0.8"/>
<line x1="504.3" y1="743.4" x2="504.3" y2="746.6" stroke="#333" stroke-width="0.8"/>
<text x="499.5" y="746.9" font-size="12.5" font-weight="bold" text-anchor="middle" fill="#111">**</text>
<line x1="527.1" y1="775.3" x2="536.4" y2="775.3" stroke="#333" stroke-width="0.8"/>
<line x1="527.1" y1="773.7" x2="527.1" y2="776.9" stroke="#333" stroke-width="0.8"/>
<line x1="536.4" y1="773.7" x2="536.4" y2="776.9" stroke="#333" stroke-width="0.8"/>
<text x="531.75" y="777.2" font-size="12.5" font-weight="bold" text-anchor="middle" fill="#111">**</text>
<line x1="536.4" y1="786.2" x2="546.4" y2="786.2" stroke="#333" stroke-width="0.8"/>
<line x1="536.4" y1="784.6" x2="536.4" y2="787.8" stroke="#333" stroke-width="0.8"/>
<line x1="546.4" y1="784.6" x2="546.4" y2="787.8" stroke="#333" stroke-width="0.8"/>
<text x="541.4" y="788.1" font-size="12.5" font-weight="bold" text-anchor="middle" fill="#111">**</text>
<line x1="567.6" y1="777.1" x2="577.6" y2="777.1" stroke="#333" stroke-width="0.8"/>
<line x1="567.6" y1="775.5" x2="567.6" y2="778.7" stroke="#333" stroke-width="0.8"/>
<line x1="577.6" y1="775.5" x2="577.6" y2="778.7" stroke="#333" stroke-width="0.8"/>
<text x="572.6" y="779" font-size="12.5" font-weight="bold" text-anchor="middle" fill="#111">*</text>
<line x1="577.6" y1="788.1" x2="586.9" y2="788.1" stroke="#333" stroke-width="0.8"/>
<line x1="577.6" y1="786.5" x2="577.6" y2="789.7" stroke="#333" stroke-width="0.8"/>
<line x1="586.9" y1="786.5" x2="586.9" y2="789.7" stroke="#333" stroke-width="0.8"/>
<text x="582.25" y="790" font-size="12.5" font-weight="bold" text-anchor="middle" fill="#111">**</text>
<line x1="608.4" y1="791.1" x2="617.9" y2="791.1" stroke="#333" stroke-width="0.8"/>
<line x1="608.4" y1="789.5" x2="608.4" y2="792.7" stroke="#333" stroke-width="0.8"/>
<line x1="617.9" y1="789.5" x2="617.9" y2="792.7" stroke="#333" stroke-width="0.8"/>
<text x="613.15" y="793" font-size="12.5" font-weight="bold" text-anchor="middle" fill="#111">**</text>
<line x1="618.4" y1="804.8" x2="628.4" y2="804.8" stroke="#333" stroke-width="0.8"/>
<line x1="618.4" y1="803.2" x2="618.4" y2="806.4" stroke="#333" stroke-width="0.8"/>
<line x1="628.4" y1="803.2" x2="628.4" y2="806.4" stroke="#333" stroke-width="0.8"/>
<text x="623.4" y="806.7" font-size="12.5" font-weight="bold" text-anchor="middle" fill="#111">**</text>
<line x1="650.5" y1="801.3" x2="660.5" y2="801.3" stroke="#333" stroke-width="0.8"/>
<line x1="650.5" y1="799.7" x2="650.5" y2="802.9" stroke="#333" stroke-width="0.8"/>
<line x1="660.5" y1="799.7" x2="660.5" y2="802.9" stroke="#333" stroke-width="0.8"/>
<text x="655.5" y="803.2" font-size="12.5" font-weight="bold" text-anchor="middle" fill="#111">*</text>
<line x1="661" y1="807.2" x2="670.1" y2="807.2" stroke="#333" stroke-width="0.8"/>
<line x1="661" y1="805.6" x2="661" y2="808.8" stroke="#333" stroke-width="0.8"/>
<line x1="670.1" y1="805.6" x2="670.1" y2="808.8" stroke="#333" stroke-width="0.8"/>
<text x="665.55" y="809.1" font-size="12.5" font-weight="bold" text-anchor="middle" fill="#111">*</text></svg></body></html>
